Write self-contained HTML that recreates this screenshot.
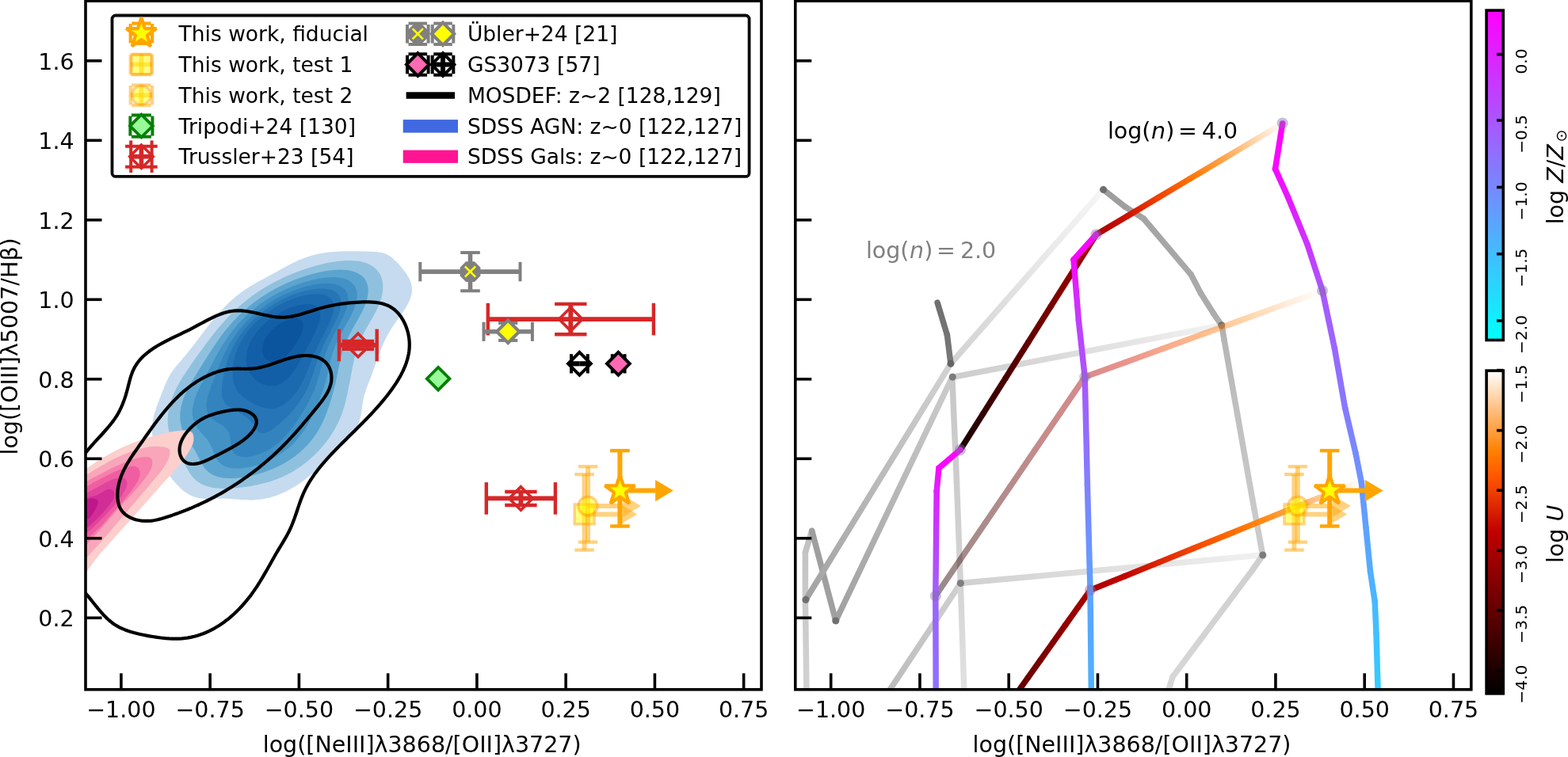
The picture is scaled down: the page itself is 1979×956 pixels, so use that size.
<!DOCTYPE html>
<html><head><meta charset="utf-8"><title>figure</title><style>html,body{margin:0;padding:0;background:#fff;overflow:hidden}svg{display:block}text{font-family:'DejaVu Sans', 'Liberation Sans', sans-serif}</style></head><body>
<svg width="1979" height="956" viewBox="0 0 1979 956">
<defs>
<clipPath id="clipL"><rect x="108" y="1.2" width="853" height="869.6"/></clipPath>
<clipPath id="clipR"><rect x="1003.8" y="1.2" width="853" height="869.6"/></clipPath>
<linearGradient id="g1" gradientUnits="userSpaceOnUse" x1="1592.4" y1="701" x2="1212.3" y2="736.6"><stop offset="0" stop-color="#f0f0f0"/><stop offset="1" stop-color="#d0d0d0"/></linearGradient>
<linearGradient id="g2" gradientUnits="userSpaceOnUse" x1="1212.3" y1="736.6" x2="1124.5" y2="869"><stop offset="0" stop-color="#d0d0d0"/><stop offset="1" stop-color="#bcbcbc"/></linearGradient>
<linearGradient id="g3" gradientUnits="userSpaceOnUse" x1="1124.5" y1="869" x2="1118.5" y2="878"><stop offset="0" stop-color="#bcbcbc"/><stop offset="1" stop-color="#bababa"/></linearGradient>
<linearGradient id="g4" gradientUnits="userSpaceOnUse" x1="1541.8" y1="410.8" x2="1201.8" y2="476.4"><stop offset="0" stop-color="#f2f2f2"/><stop offset="1" stop-color="#cccccc"/></linearGradient>
<linearGradient id="g5" gradientUnits="userSpaceOnUse" x1="1201.8" y1="476.4" x2="1054.8" y2="784"><stop offset="0" stop-color="#cccccc"/><stop offset="1" stop-color="#a0a0a0"/></linearGradient>
<linearGradient id="g6" gradientUnits="userSpaceOnUse" x1="1201.8" y1="476.4" x2="1207.5" y2="610"><stop offset="0" stop-color="#c8c8c8"/><stop offset="1" stop-color="#cdcdcd"/></linearGradient>
<linearGradient id="g7" gradientUnits="userSpaceOnUse" x1="1207.5" y1="610" x2="1212.3" y2="736.6"><stop offset="0" stop-color="#cdcdcd"/><stop offset="1" stop-color="#d4d4d4"/></linearGradient>
<linearGradient id="g8" gradientUnits="userSpaceOnUse" x1="1212.3" y1="736.6" x2="1217" y2="878"><stop offset="0" stop-color="#d4d4d4"/><stop offset="1" stop-color="#e2e2e2"/></linearGradient>
<linearGradient id="g9" gradientUnits="userSpaceOnUse" x1="1024.7" y1="670.3" x2="1016.4" y2="697.7"><stop offset="0" stop-color="#bebebe"/><stop offset="1" stop-color="#c3c3c3"/></linearGradient>
<linearGradient id="g10" gradientUnits="userSpaceOnUse" x1="1016.4" y1="697.7" x2="1016.4" y2="757"><stop offset="0" stop-color="#c3c3c3"/><stop offset="1" stop-color="#cacaca"/></linearGradient>
<linearGradient id="g11" gradientUnits="userSpaceOnUse" x1="1016.4" y1="757" x2="1018" y2="878"><stop offset="0" stop-color="#cacaca"/><stop offset="1" stop-color="#d2d2d2"/></linearGradient>
<linearGradient id="g12" gradientUnits="userSpaceOnUse" x1="1054.8" y1="784" x2="1024.7" y2="670.3"><stop offset="0" stop-color="#a0a0a0"/><stop offset="1" stop-color="#9e9e9e"/></linearGradient>
<linearGradient id="g13" gradientUnits="userSpaceOnUse" x1="1392.5" y1="239.4" x2="1199.9" y2="459.3"><stop offset="0" stop-color="#f6f6f6"/><stop offset="1" stop-color="#d2d2d2"/></linearGradient>
<linearGradient id="g14" gradientUnits="userSpaceOnUse" x1="1199.9" y1="459.3" x2="1017" y2="757.4"><stop offset="0" stop-color="#d2d2d2"/><stop offset="1" stop-color="#a2a2a2"/></linearGradient>
<linearGradient id="g15" gradientUnits="userSpaceOnUse" x1="1183.1" y1="382.2" x2="1195.4" y2="423"><stop offset="0" stop-color="#707070"/><stop offset="1" stop-color="#747474"/></linearGradient>
<linearGradient id="g16" gradientUnits="userSpaceOnUse" x1="1195.4" y1="423" x2="1199.9" y2="459.3"><stop offset="0" stop-color="#747474"/><stop offset="1" stop-color="#787878"/></linearGradient>
<linearGradient id="g17" gradientUnits="userSpaceOnUse" x1="1392.5" y1="239.4" x2="1420" y2="261.2"><stop offset="0" stop-color="#9c9c9c"/><stop offset="1" stop-color="#a0a0a0"/></linearGradient>
<linearGradient id="g18" gradientUnits="userSpaceOnUse" x1="1420" y1="261.2" x2="1443.3" y2="276"><stop offset="0" stop-color="#a0a0a0"/><stop offset="1" stop-color="#a4a4a4"/></linearGradient>
<linearGradient id="g19" gradientUnits="userSpaceOnUse" x1="1443.3" y1="276" x2="1503.1" y2="346.6"><stop offset="0" stop-color="#a4a4a4"/><stop offset="1" stop-color="#a8a8a8"/></linearGradient>
<linearGradient id="g20" gradientUnits="userSpaceOnUse" x1="1503.1" y1="346.6" x2="1515.3" y2="370"><stop offset="0" stop-color="#a8a8a8"/><stop offset="1" stop-color="#aaaaaa"/></linearGradient>
<linearGradient id="g21" gradientUnits="userSpaceOnUse" x1="1515.3" y1="370" x2="1531.6" y2="395.8"><stop offset="0" stop-color="#aaaaaa"/><stop offset="1" stop-color="#acacac"/></linearGradient>
<linearGradient id="g22" gradientUnits="userSpaceOnUse" x1="1531.6" y1="395.8" x2="1542" y2="410.8"><stop offset="0" stop-color="#acacac"/><stop offset="1" stop-color="#b0b0b0"/></linearGradient>
<linearGradient id="g23" gradientUnits="userSpaceOnUse" x1="1542" y1="410.8" x2="1545.2" y2="429.8"><stop offset="0" stop-color="#b0b0b0"/><stop offset="1" stop-color="#b6b6b6"/></linearGradient>
<linearGradient id="g24" gradientUnits="userSpaceOnUse" x1="1545.2" y1="429.8" x2="1561.5" y2="522.2"><stop offset="0" stop-color="#b6b6b6"/><stop offset="1" stop-color="#c0c0c0"/></linearGradient>
<linearGradient id="g25" gradientUnits="userSpaceOnUse" x1="1561.5" y1="522.2" x2="1580.6" y2="630"><stop offset="0" stop-color="#c0c0c0"/><stop offset="1" stop-color="#c8c8c8"/></linearGradient>
<linearGradient id="g26" gradientUnits="userSpaceOnUse" x1="1580.6" y1="630" x2="1592.4" y2="693.9"><stop offset="0" stop-color="#c8c8c8"/><stop offset="1" stop-color="#cccccc"/></linearGradient>
<linearGradient id="g27" gradientUnits="userSpaceOnUse" x1="1592.4" y1="693.9" x2="1593.8" y2="701"><stop offset="0" stop-color="#cccccc"/><stop offset="1" stop-color="#cecece"/></linearGradient>
<linearGradient id="g28" gradientUnits="userSpaceOnUse" x1="1593.8" y1="701" x2="1581" y2="719.5"><stop offset="0" stop-color="#cecece"/><stop offset="1" stop-color="#d0d0d0"/></linearGradient>
<linearGradient id="g29" gradientUnits="userSpaceOnUse" x1="1581" y1="719.5" x2="1480" y2="854.7"><stop offset="0" stop-color="#d0d0d0"/><stop offset="1" stop-color="#d6d6d6"/></linearGradient>
<linearGradient id="g30" gradientUnits="userSpaceOnUse" x1="1480" y1="854.7" x2="1473" y2="878"><stop offset="0" stop-color="#d6d6d6"/><stop offset="1" stop-color="#d7d7d7"/></linearGradient>
<linearGradient id="g31" gradientUnits="userSpaceOnUse" x1="1180.8" y1="752.5" x2="1212.2" y2="706.43"><stop offset="0" stop-color="#1b0000"/><stop offset="1" stop-color="#330000"/></linearGradient>
<linearGradient id="g32" gradientUnits="userSpaceOnUse" x1="1212.2" y1="706.43" x2="1243.6" y2="660.37"><stop offset="0" stop-color="#330000"/><stop offset="1" stop-color="#4a0000"/></linearGradient>
<linearGradient id="g33" gradientUnits="userSpaceOnUse" x1="1243.6" y1="660.37" x2="1275" y2="614.3"><stop offset="0" stop-color="#4a0000"/><stop offset="1" stop-color="#620000"/></linearGradient>
<linearGradient id="g34" gradientUnits="userSpaceOnUse" x1="1275" y1="614.3" x2="1306.4" y2="568.23"><stop offset="0" stop-color="#620000"/><stop offset="1" stop-color="#7a0000"/></linearGradient>
<linearGradient id="g35" gradientUnits="userSpaceOnUse" x1="1306.4" y1="568.23" x2="1337.8" y2="522.17"><stop offset="0" stop-color="#7a0000"/><stop offset="1" stop-color="#920000"/></linearGradient>
<linearGradient id="g36" gradientUnits="userSpaceOnUse" x1="1337.8" y1="522.17" x2="1369.2" y2="476.1"><stop offset="0" stop-color="#920000"/><stop offset="1" stop-color="#a90000"/></linearGradient>
<linearGradient id="g37" gradientUnits="userSpaceOnUse" x1="1369.2" y1="476.1" x2="1419.17" y2="457.92"><stop offset="0" stop-color="#a90000"/><stop offset="1" stop-color="#cd1200"/></linearGradient>
<linearGradient id="g38" gradientUnits="userSpaceOnUse" x1="1419.17" y1="457.92" x2="1469.13" y2="439.73"><stop offset="0" stop-color="#cd1200"/><stop offset="1" stop-color="#f04100"/></linearGradient>
<linearGradient id="g39" gradientUnits="userSpaceOnUse" x1="1469.13" y1="439.73" x2="1519.1" y2="421.55"><stop offset="0" stop-color="#f04100"/><stop offset="1" stop-color="#ff7100"/></linearGradient>
<linearGradient id="g40" gradientUnits="userSpaceOnUse" x1="1519.1" y1="421.55" x2="1569.07" y2="403.37"><stop offset="0" stop-color="#ff7100"/><stop offset="1" stop-color="#ffa041"/></linearGradient>
<linearGradient id="g41" gradientUnits="userSpaceOnUse" x1="1569.07" y1="403.37" x2="1619.03" y2="385.18"><stop offset="0" stop-color="#ffa041"/><stop offset="1" stop-color="#ffd0a0"/></linearGradient>
<linearGradient id="g42" gradientUnits="userSpaceOnUse" x1="1619.03" y1="385.18" x2="1669" y2="367"><stop offset="0" stop-color="#ffd0a0"/><stop offset="1" stop-color="#ffffff"/></linearGradient>
<linearGradient id="g43" gradientUnits="userSpaceOnUse" x1="1281.6" y1="878" x2="1297.33" y2="855.88"><stop offset="0" stop-color="#620000"/><stop offset="1" stop-color="#6e0000"/></linearGradient>
<linearGradient id="g44" gradientUnits="userSpaceOnUse" x1="1297.33" y1="855.88" x2="1313.07" y2="833.77"><stop offset="0" stop-color="#6e0000"/><stop offset="1" stop-color="#7a0000"/></linearGradient>
<linearGradient id="g45" gradientUnits="userSpaceOnUse" x1="1313.07" y1="833.77" x2="1328.8" y2="811.65"><stop offset="0" stop-color="#7a0000"/><stop offset="1" stop-color="#860000"/></linearGradient>
<linearGradient id="g46" gradientUnits="userSpaceOnUse" x1="1328.8" y1="811.65" x2="1344.53" y2="789.53"><stop offset="0" stop-color="#860000"/><stop offset="1" stop-color="#920000"/></linearGradient>
<linearGradient id="g47" gradientUnits="userSpaceOnUse" x1="1344.53" y1="789.53" x2="1360.27" y2="767.42"><stop offset="0" stop-color="#920000"/><stop offset="1" stop-color="#9d0000"/></linearGradient>
<linearGradient id="g48" gradientUnits="userSpaceOnUse" x1="1360.27" y1="767.42" x2="1376" y2="745.3"><stop offset="0" stop-color="#9d0000"/><stop offset="1" stop-color="#a90000"/></linearGradient>
<linearGradient id="g49" gradientUnits="userSpaceOnUse" x1="1376" y1="745.3" x2="1419.42" y2="727.72"><stop offset="0" stop-color="#a90000"/><stop offset="1" stop-color="#c20400"/></linearGradient>
<linearGradient id="g50" gradientUnits="userSpaceOnUse" x1="1419.42" y1="727.72" x2="1462.83" y2="710.13"><stop offset="0" stop-color="#c20400"/><stop offset="1" stop-color="#db2500"/></linearGradient>
<linearGradient id="g51" gradientUnits="userSpaceOnUse" x1="1462.83" y1="710.13" x2="1506.25" y2="692.55"><stop offset="0" stop-color="#db2500"/><stop offset="1" stop-color="#f44600"/></linearGradient>
<linearGradient id="g52" gradientUnits="userSpaceOnUse" x1="1506.25" y1="692.55" x2="1549.67" y2="674.97"><stop offset="0" stop-color="#f44600"/><stop offset="1" stop-color="#ff6700"/></linearGradient>
<linearGradient id="g53" gradientUnits="userSpaceOnUse" x1="1549.67" y1="674.97" x2="1593.08" y2="657.38"><stop offset="0" stop-color="#ff6700"/><stop offset="1" stop-color="#ff8912"/></linearGradient>
<linearGradient id="g54" gradientUnits="userSpaceOnUse" x1="1593.08" y1="657.38" x2="1636.5" y2="639.8"><stop offset="0" stop-color="#ff8912"/><stop offset="1" stop-color="#ffaa54"/></linearGradient>
<linearGradient id="g55" gradientUnits="userSpaceOnUse" x1="1636.5" y1="639.8" x2="1649.78" y2="634.58"><stop offset="0" stop-color="#ffaa54"/><stop offset="1" stop-color="#ffb871"/></linearGradient>
<linearGradient id="g56" gradientUnits="userSpaceOnUse" x1="1649.78" y1="634.58" x2="1663.07" y2="629.37"><stop offset="0" stop-color="#ffb871"/><stop offset="1" stop-color="#ffc68d"/></linearGradient>
<linearGradient id="g57" gradientUnits="userSpaceOnUse" x1="1663.07" y1="629.37" x2="1676.35" y2="624.15"><stop offset="0" stop-color="#ffc68d"/><stop offset="1" stop-color="#ffd4aa"/></linearGradient>
<linearGradient id="g58" gradientUnits="userSpaceOnUse" x1="1676.35" y1="624.15" x2="1689.63" y2="618.93"><stop offset="0" stop-color="#ffd4aa"/><stop offset="1" stop-color="#ffe3c6"/></linearGradient>
<linearGradient id="g59" gradientUnits="userSpaceOnUse" x1="1689.63" y1="618.93" x2="1702.92" y2="613.72"><stop offset="0" stop-color="#ffe3c6"/><stop offset="1" stop-color="#fff1e3"/></linearGradient>
<linearGradient id="g60" gradientUnits="userSpaceOnUse" x1="1702.92" y1="613.72" x2="1716.2" y2="608.5"><stop offset="0" stop-color="#fff1e3"/><stop offset="1" stop-color="#ffffff"/></linearGradient>
<linearGradient id="g61" gradientUnits="userSpaceOnUse" x1="1212" y1="568" x2="1240.58" y2="522.72"><stop offset="0" stop-color="#1b0000"/><stop offset="1" stop-color="#330000"/></linearGradient>
<linearGradient id="g62" gradientUnits="userSpaceOnUse" x1="1240.58" y1="522.72" x2="1269.17" y2="477.43"><stop offset="0" stop-color="#330000"/><stop offset="1" stop-color="#4a0000"/></linearGradient>
<linearGradient id="g63" gradientUnits="userSpaceOnUse" x1="1269.17" y1="477.43" x2="1297.75" y2="432.15"><stop offset="0" stop-color="#4a0000"/><stop offset="1" stop-color="#620000"/></linearGradient>
<linearGradient id="g64" gradientUnits="userSpaceOnUse" x1="1297.75" y1="432.15" x2="1326.33" y2="386.87"><stop offset="0" stop-color="#620000"/><stop offset="1" stop-color="#7a0000"/></linearGradient>
<linearGradient id="g65" gradientUnits="userSpaceOnUse" x1="1326.33" y1="386.87" x2="1354.92" y2="341.58"><stop offset="0" stop-color="#7a0000"/><stop offset="1" stop-color="#920000"/></linearGradient>
<linearGradient id="g66" gradientUnits="userSpaceOnUse" x1="1354.92" y1="341.58" x2="1383.5" y2="296.3"><stop offset="0" stop-color="#920000"/><stop offset="1" stop-color="#a90000"/></linearGradient>
<linearGradient id="g67" gradientUnits="userSpaceOnUse" x1="1383.5" y1="296.3" x2="1422.7" y2="272.92"><stop offset="0" stop-color="#a90000"/><stop offset="1" stop-color="#cd1200"/></linearGradient>
<linearGradient id="g68" gradientUnits="userSpaceOnUse" x1="1422.7" y1="272.92" x2="1461.9" y2="249.53"><stop offset="0" stop-color="#cd1200"/><stop offset="1" stop-color="#f04100"/></linearGradient>
<linearGradient id="g69" gradientUnits="userSpaceOnUse" x1="1461.9" y1="249.53" x2="1501.1" y2="226.15"><stop offset="0" stop-color="#f04100"/><stop offset="1" stop-color="#ff7100"/></linearGradient>
<linearGradient id="g70" gradientUnits="userSpaceOnUse" x1="1501.1" y1="226.15" x2="1540.3" y2="202.77"><stop offset="0" stop-color="#ff7100"/><stop offset="1" stop-color="#ffa041"/></linearGradient>
<linearGradient id="g71" gradientUnits="userSpaceOnUse" x1="1540.3" y1="202.77" x2="1579.5" y2="179.38"><stop offset="0" stop-color="#ffa041"/><stop offset="1" stop-color="#ffd0a0"/></linearGradient>
<linearGradient id="g72" gradientUnits="userSpaceOnUse" x1="1579.5" y1="179.38" x2="1618.7" y2="156"><stop offset="0" stop-color="#ffd0a0"/><stop offset="1" stop-color="#ffffff"/></linearGradient>
<linearGradient id="g73" gradientUnits="userSpaceOnUse" x1="1618.7" y1="156" x2="1609.5" y2="213.4"><stop offset="0" stop-color="#ff00ff"/><stop offset="1" stop-color="#f708ff"/></linearGradient>
<linearGradient id="g74" gradientUnits="userSpaceOnUse" x1="1609.5" y1="213.4" x2="1625.5" y2="248.8"><stop offset="0" stop-color="#f708ff"/><stop offset="1" stop-color="#e619ff"/></linearGradient>
<linearGradient id="g75" gradientUnits="userSpaceOnUse" x1="1625.5" y1="248.8" x2="1650" y2="308.6"><stop offset="0" stop-color="#e619ff"/><stop offset="1" stop-color="#cc33ff"/></linearGradient>
<linearGradient id="g76" gradientUnits="userSpaceOnUse" x1="1650" y1="308.6" x2="1669" y2="367"><stop offset="0" stop-color="#cc33ff"/><stop offset="1" stop-color="#a857ff"/></linearGradient>
<linearGradient id="g77" gradientUnits="userSpaceOnUse" x1="1669" y1="367" x2="1684.4" y2="440"><stop offset="0" stop-color="#a857ff"/><stop offset="1" stop-color="#9966ff"/></linearGradient>
<linearGradient id="g78" gradientUnits="userSpaceOnUse" x1="1684.4" y1="440" x2="1697.6" y2="515.2"><stop offset="0" stop-color="#9966ff"/><stop offset="1" stop-color="#857aff"/></linearGradient>
<linearGradient id="g79" gradientUnits="userSpaceOnUse" x1="1697.6" y1="515.2" x2="1710.8" y2="571.6"><stop offset="0" stop-color="#857aff"/><stop offset="1" stop-color="#758aff"/></linearGradient>
<linearGradient id="g80" gradientUnits="userSpaceOnUse" x1="1710.8" y1="571.6" x2="1718.3" y2="609.2"><stop offset="0" stop-color="#758aff"/><stop offset="1" stop-color="#6b94ff"/></linearGradient>
<linearGradient id="g81" gradientUnits="userSpaceOnUse" x1="1718.3" y1="609.2" x2="1723.9" y2="665.6"><stop offset="0" stop-color="#6b94ff"/><stop offset="1" stop-color="#5ea1ff"/></linearGradient>
<linearGradient id="g82" gradientUnits="userSpaceOnUse" x1="1723.9" y1="665.6" x2="1729.5" y2="722"><stop offset="0" stop-color="#5ea1ff"/><stop offset="1" stop-color="#52adff"/></linearGradient>
<linearGradient id="g83" gradientUnits="userSpaceOnUse" x1="1729.5" y1="722" x2="1735.2" y2="759.5"><stop offset="0" stop-color="#52adff"/><stop offset="1" stop-color="#47b8ff"/></linearGradient>
<linearGradient id="g84" gradientUnits="userSpaceOnUse" x1="1735.2" y1="759.5" x2="1737" y2="799.4"><stop offset="0" stop-color="#47b8ff"/><stop offset="1" stop-color="#40bfff"/></linearGradient>
<linearGradient id="g85" gradientUnits="userSpaceOnUse" x1="1737" y1="799.4" x2="1739.3" y2="878"><stop offset="0" stop-color="#40bfff"/><stop offset="1" stop-color="#30cfff"/></linearGradient>
<linearGradient id="g86" gradientUnits="userSpaceOnUse" x1="1383.5" y1="296.3" x2="1355" y2="328"><stop offset="0" stop-color="#ff00ff"/><stop offset="1" stop-color="#f708ff"/></linearGradient>
<linearGradient id="g87" gradientUnits="userSpaceOnUse" x1="1355" y1="328" x2="1361.3" y2="404"><stop offset="0" stop-color="#f708ff"/><stop offset="1" stop-color="#c23dff"/></linearGradient>
<linearGradient id="g88" gradientUnits="userSpaceOnUse" x1="1361.3" y1="404" x2="1369.2" y2="476.1"><stop offset="0" stop-color="#c23dff"/><stop offset="1" stop-color="#a857ff"/></linearGradient>
<linearGradient id="g89" gradientUnits="userSpaceOnUse" x1="1369.2" y1="476.1" x2="1372.4" y2="612"><stop offset="0" stop-color="#a857ff"/><stop offset="1" stop-color="#8080ff"/></linearGradient>
<linearGradient id="g90" gradientUnits="userSpaceOnUse" x1="1372.4" y1="612" x2="1376" y2="745.3"><stop offset="0" stop-color="#8080ff"/><stop offset="1" stop-color="#5ca3ff"/></linearGradient>
<linearGradient id="g91" gradientUnits="userSpaceOnUse" x1="1376" y1="745.3" x2="1377.4" y2="878"><stop offset="0" stop-color="#5ca3ff"/><stop offset="1" stop-color="#4cb2ff"/></linearGradient>
<linearGradient id="g92" gradientUnits="userSpaceOnUse" x1="1212" y1="568" x2="1184.9" y2="591.2"><stop offset="0" stop-color="#ff00ff"/><stop offset="1" stop-color="#f708ff"/></linearGradient>
<linearGradient id="g93" gradientUnits="userSpaceOnUse" x1="1184.9" y1="591.2" x2="1182.2" y2="620"><stop offset="0" stop-color="#f708ff"/><stop offset="1" stop-color="#de21ff"/></linearGradient>
<linearGradient id="g94" gradientUnits="userSpaceOnUse" x1="1182.2" y1="620" x2="1180.8" y2="752.5"><stop offset="0" stop-color="#de21ff"/><stop offset="1" stop-color="#9e61ff"/></linearGradient>
<linearGradient id="g95" gradientUnits="userSpaceOnUse" x1="1180.8" y1="752.5" x2="1181.2" y2="878"><stop offset="0" stop-color="#9e61ff"/><stop offset="1" stop-color="#8c73ff"/></linearGradient>
<linearGradient id="cb1" x1="0" y1="1" x2="0" y2="0"><stop offset="0" stop-color="#00ffff"/><stop offset="1" stop-color="#ff00ff"/></linearGradient>
<linearGradient id="cb2" x1="0" y1="1" x2="0" y2="0"><stop offset="0" stop-color="#000000"/><stop offset="0.25" stop-color="#600000"/><stop offset="0.5" stop-color="#bf0000"/><stop offset="0.67" stop-color="#ff5500"/><stop offset="0.75" stop-color="#ff8000"/><stop offset="0.88" stop-color="#ffbf80"/><stop offset="1" stop-color="#ffffff"/></linearGradient>
</defs>
<rect width="1979" height="956" fill="#fff"/>
<g clip-path="url(#clipL)">
<path d="M192.32,535.10 L192.65,532.67 L193.06,530.24 L193.55,527.81 L194.12,525.39 L194.75,522.97 L195.45,520.55 L196.19,518.14 L196.98,515.74 L197.81,513.33 L198.67,510.94 L199.56,508.54 L200.46,506.16 L201.38,503.77 L202.30,501.40 L203.22,499.02 L204.13,496.65 L205.04,494.29 L205.95,491.94 L206.87,489.61 L207.81,487.29 L208.78,485.00 L209.78,482.72 L210.82,480.48 L211.90,478.26 L213.04,476.08 L214.23,473.93 L215.50,471.83 L216.84,469.76 L218.25,467.74 L219.73,465.76 L221.26,463.81 L222.84,461.88 L224.45,459.96 L226.09,458.06 L227.74,456.17 L229.39,454.27 L231.03,452.36 L232.66,450.44 L234.27,448.51 L235.86,446.56 L237.43,444.61 L239.00,442.64 L240.55,440.66 L242.09,438.68 L243.63,436.69 L245.15,434.69 L246.67,432.69 L248.19,430.69 L249.70,428.68 L251.22,426.68 L252.73,424.67 L254.24,422.67 L255.76,420.67 L257.29,418.67 L258.82,416.68 L260.36,414.69 L261.90,412.71 L263.45,410.74 L265.02,408.78 L266.59,406.83 L268.18,404.89 L269.77,402.96 L271.38,401.05 L273.00,399.15 L274.64,397.26 L276.29,395.39 L277.96,393.54 L279.64,391.70 L281.35,389.89 L283.07,388.10 L284.81,386.32 L286.56,384.57 L288.34,382.84 L290.15,381.14 L291.97,379.46 L293.82,377.81 L295.69,376.19 L297.58,374.59 L299.50,373.02 L301.45,371.49 L303.42,369.98 L305.42,368.51 L307.45,367.07 L309.51,365.66 L311.60,364.28 L313.71,362.93 L315.84,361.61 L317.99,360.31 L320.16,359.04 L322.34,357.78 L324.54,356.54 L326.75,355.31 L328.97,354.09 L331.19,352.88 L333.42,351.68 L335.65,350.48 L337.88,349.29 L340.11,348.09 L342.34,346.89 L344.56,345.69 L346.77,344.48 L348.98,343.26 L351.18,342.04 L353.37,340.82 L355.57,339.61 L357.76,338.40 L359.95,337.20 L362.15,336.02 L364.35,334.85 L366.55,333.70 L368.76,332.58 L370.98,331.48 L373.21,330.40 L375.44,329.36 L377.70,328.35 L379.96,327.38 L382.24,326.45 L384.54,325.57 L386.86,324.73 L389.19,323.94 L391.55,323.20 L393.93,322.51 L396.33,321.88 L398.75,321.29 L401.19,320.76 L403.64,320.27 L406.11,319.82 L408.60,319.42 L411.10,319.05 L413.61,318.73 L416.13,318.44 L418.66,318.19 L421.20,317.97 L423.74,317.79 L426.30,317.63 L428.85,317.50 L431.42,317.40 L433.98,317.32 L436.54,317.27 L439.11,317.23 L441.67,317.22 L444.23,317.22 L446.79,317.24 L449.34,317.27 L451.88,317.32 L454.42,317.37 L456.95,317.44 L459.47,317.51 L461.98,317.58 L464.47,317.66 L466.95,317.74 L469.42,317.82 L471.87,317.93 L474.29,318.09 L476.68,318.31 L479.03,318.63 L481.34,319.05 L483.61,319.60 L485.83,320.31 L487.99,321.18 L490.08,322.25 L492.13,323.50 L494.11,324.91 L496.05,326.47 L497.94,328.16 L499.79,329.95 L501.60,331.83 L503.38,333.79 L505.13,335.79 L506.85,337.84 L508.54,339.90 L510.18,341.99 L511.75,344.11 L513.23,346.25 L514.61,348.42 L515.86,350.60 L516.97,352.81 L517.92,355.05 L518.69,357.30 L519.29,359.57 L519.70,361.85 L519.94,364.15 L519.99,366.45 L519.85,368.75 L519.53,371.06 L519.02,373.36 L518.35,375.67 L517.52,377.96 L516.57,380.25 L515.49,382.53 L514.30,384.79 L513.03,387.04 L511.68,389.28 L510.27,391.49 L508.81,393.69 L507.33,395.87 L505.83,398.02 L504.33,400.14 L502.83,402.24 L501.36,404.32 L499.89,406.39 L498.45,408.45 L497.03,410.50 L495.64,412.56 L494.28,414.62 L492.95,416.70 L491.66,418.79 L490.42,420.90 L489.22,423.04 L488.06,425.21 L486.94,427.40 L485.87,429.61 L484.82,431.84 L483.81,434.09 L482.83,436.36 L481.88,438.65 L480.95,440.95 L480.04,443.27 L479.15,445.60 L478.28,447.94 L477.42,450.28 L476.57,452.64 L475.73,455.00 L474.89,457.37 L474.06,459.74 L473.23,462.11 L472.39,464.48 L471.55,466.86 L470.70,469.22 L469.84,471.59 L468.97,473.95 L468.08,476.30 L467.17,478.64 L466.25,480.98 L465.33,483.32 L464.41,485.65 L463.52,487.99 L462.65,490.34 L461.81,492.70 L461.03,495.07 L460.31,497.46 L459.65,499.87 L459.07,502.30 L458.57,504.76 L458.12,507.23 L457.73,509.72 L457.36,512.21 L457.00,514.71 L456.64,517.19 L456.27,519.67 L455.86,522.12 L455.40,524.56 L454.88,526.96 L454.28,529.33 L453.60,531.66 L452.83,533.95 L451.97,536.20 L451.02,538.41 L449.98,540.57 L448.84,542.69 L447.59,544.77 L446.25,546.79 L444.80,548.76 L443.27,550.69 L441.65,552.58 L439.96,554.44 L438.21,556.27 L436.42,558.07 L434.59,559.85 L432.73,561.62 L430.86,563.37 L428.98,565.12 L427.11,566.87 L425.26,568.62 L423.42,570.38 L421.60,572.13 L419.78,573.89 L417.98,575.65 L416.19,577.40 L414.40,579.16 L412.62,580.90 L410.83,582.64 L409.05,584.38 L407.26,586.10 L405.47,587.82 L403.67,589.53 L401.87,591.22 L400.05,592.90 L398.22,594.56 L396.37,596.21 L394.51,597.84 L392.62,599.46 L390.72,601.05 L388.79,602.62 L386.83,604.17 L384.85,605.70 L382.84,607.20 L380.80,608.68 L378.73,610.12 L376.64,611.54 L374.52,612.92 L372.38,614.26 L370.22,615.57 L368.03,616.85 L365.82,618.08 L363.59,619.27 L361.34,620.42 L359.07,621.52 L356.78,622.57 L354.48,623.57 L352.16,624.52 L349.82,625.42 L347.46,626.27 L345.10,627.05 L342.71,627.78 L340.32,628.45 L337.91,629.05 L335.50,629.59 L333.07,630.07 L330.63,630.47 L328.19,630.81 L325.73,631.07 L323.27,631.26 L320.80,631.39 L318.33,631.46 L315.85,631.47 L313.37,631.43 L310.87,631.35 L308.38,631.24 L305.88,631.10 L303.37,630.94 L300.86,630.76 L298.34,630.57 L295.82,630.38 L293.30,630.19 L290.77,630.01 L288.24,629.85 L285.71,629.71 L283.18,629.60 L280.64,629.52 L278.10,629.49 L275.56,629.50 L273.02,629.56 L270.48,629.65 L267.95,629.76 L265.43,629.85 L262.92,629.91 L260.42,629.91 L257.96,629.83 L255.51,629.65 L253.10,629.36 L250.72,628.94 L248.37,628.41 L246.07,627.76 L243.80,626.98 L241.59,626.07 L239.43,625.03 L237.32,623.87 L235.26,622.57 L233.26,621.16 L231.31,619.65 L229.40,618.03 L227.53,616.33 L225.71,614.55 L223.93,612.70 L222.18,610.80 L220.47,608.84 L218.80,606.85 L217.15,604.83 L215.54,602.77 L213.96,600.69 L212.42,598.57 L210.92,596.43 L209.46,594.27 L208.04,592.08 L206.67,589.87 L205.35,587.63 L204.07,585.37 L202.85,583.10 L201.68,580.80 L200.57,578.49 L199.51,576.16 L198.51,573.81 L197.58,571.45 L196.71,569.08 L195.90,566.69 L195.16,564.30 L194.49,561.89 L193.90,559.48 L193.37,557.05 L192.93,554.62 L192.56,552.19 L192.27,549.75 L192.06,547.31 L191.94,544.87 L191.90,542.43 L191.95,539.98 L192.09,537.54 L192.32,535.10 Z" fill="#c6dbef"/>
<path d="M425.9,330.0 L428.0,329.8 L431.0,329.5 L434.0,329.2 L437.0,329.1 L440.0,329.0 L443.0,329.0 L446.0,329.2 L449.0,329.4 L452.0,329.8 L454.0,330.1 L457.0,330.7 L459.0,331.2 L461.5,332.0 L464.0,332.9 L466.0,333.8 L468.0,334.9 L469.9,336.0 L471.3,337.0 L473.0,338.3 L474.8,340.0 L476.0,341.3 L477.4,343.0 L478.8,345.0 L479.9,347.0 L480.8,349.0 L481.6,351.0 L482.2,353.0 L482.8,356.0 L483.1,358.0 L483.3,361.0 L483.3,364.0 L483.1,367.0 L482.8,369.0 L482.3,372.0 L481.9,374.0 L481.1,377.0 L480.4,379.0 L479.8,381.0 L479.0,383.1 L478.0,385.5 L477.0,387.8 L476.0,390.0 L475.0,392.0 L474.0,394.0 L473.0,396.0 L472.0,397.8 L471.0,399.7 L470.0,401.5 L469.0,403.2 L468.0,405.0 L466.8,407.0 L465.7,409.0 L464.5,411.0 L463.3,413.0 L462.2,415.0 L461.1,417.0 L460.0,419.0 L459.0,420.8 L458.0,422.8 L457.0,424.8 L456.0,426.8 L455.0,429.0 L454.1,431.0 L453.3,433.0 L452.5,435.0 L451.8,437.0 L451.0,439.2 L450.1,442.0 L449.5,444.0 L448.9,446.0 L448.1,449.0 L447.6,451.0 L447.0,453.7 L446.5,456.0 L446.0,458.3 L445.5,461.0 L445.0,463.3 L444.5,466.0 L444.0,468.4 L443.5,471.0 L443.0,473.7 L442.6,476.0 L442.0,479.0 L441.6,481.0 L441.1,484.0 L440.7,486.0 L440.1,489.0 L439.7,491.0 L439.1,494.0 L438.7,496.0 L438.1,499.0 L437.6,501.0 L437.0,503.6 L436.4,506.0 L435.9,508.0 L435.1,511.0 L434.6,513.0 L434.0,515.0 L433.0,518.0 L432.4,520.0 L431.7,522.0 L430.9,524.0 L430.0,526.3 L429.0,528.8 L428.0,531.0 L427.1,533.0 L426.2,535.0 L425.1,537.0 L424.1,539.0 L423.0,541.0 L422.0,542.8 L421.0,544.5 L420.0,546.1 L418.8,548.0 L417.5,550.0 L416.2,552.0 L415.0,553.7 L414.0,555.1 L412.6,557.0 L411.0,559.0 L410.0,560.3 L408.6,562.0 L407.0,563.9 L406.0,565.1 L404.3,567.0 L403.0,568.4 L401.5,570.0 L400.0,571.5 L398.6,573.0 L397.0,574.5 L395.4,576.0 L394.0,577.3 L392.2,579.0 L391.0,580.0 L389.0,581.7 L387.4,583.0 L386.0,584.2 L384.0,585.7 L382.3,587.0 L380.9,588.0 L379.0,589.4 L377.0,590.8 L375.1,592.0 L373.6,593.0 L372.0,594.0 L370.0,595.2 L368.0,596.4 L366.0,597.5 L364.0,598.6 L362.0,599.6 L360.0,600.6 L358.0,601.5 L356.0,602.4 L354.0,603.3 L352.0,604.1 L349.8,605.0 L347.1,606.0 L345.0,606.7 L343.0,607.4 L341.0,608.1 L338.0,609.0 L336.0,609.5 L334.0,610.1 L331.0,610.8 L329.0,611.3 L326.0,612.0 L324.0,612.4 L321.0,613.0 L319.0,613.4 L316.0,613.9 L314.0,614.2 L311.0,614.7 L309.0,615.0 L306.0,615.4 L303.0,615.8 L300.9,616.0 L298.0,616.3 L295.0,616.5 L292.0,616.7 L289.0,616.9 L286.0,617.0 L283.0,617.0 L280.0,616.9 L277.0,616.8 L274.0,616.5 L271.0,616.2 L269.0,615.9 L266.0,615.3 L264.0,614.8 L261.1,614.0 L259.0,613.3 L257.0,612.5 L255.0,611.6 L253.0,610.5 L251.0,609.3 L249.1,608.0 L247.8,607.0 L246.0,605.4 L244.6,604.0 L243.0,602.2 L242.0,601.0 L240.5,599.0 L239.2,597.0 L238.0,595.1 L237.0,593.4 L236.0,591.6 L235.0,589.7 L234.0,587.8 L233.0,585.8 L232.0,583.8 L231.0,581.9 L230.0,580.0 L228.9,578.0 L227.8,576.0 L226.7,574.0 L225.5,572.0 L224.4,570.0 L223.2,568.0 L222.1,566.0 L221.0,564.1 L220.0,562.2 L219.0,560.3 L218.0,558.2 L217.0,556.0 L216.2,554.0 L215.4,552.0 L214.7,550.0 L214.0,547.7 L213.3,545.0 L212.9,543.0 L212.4,540.0 L212.0,537.2 L211.8,535.0 L211.7,532.0 L211.7,529.0 L211.9,526.0 L212.0,524.0 L212.4,521.0 L212.9,518.0 L213.3,516.0 L214.0,513.0 L214.5,511.0 L215.1,509.0 L216.0,506.0 L216.7,504.0 L217.4,502.0 L218.2,500.0 L219.0,498.0 L220.0,495.8 L221.0,493.6 L222.0,491.5 L223.0,489.5 L224.0,487.6 L225.0,485.8 L226.0,484.0 L227.1,482.0 L228.3,480.0 L229.5,478.0 L230.7,476.0 L232.0,474.0 L233.0,472.5 L234.0,470.9 L235.3,469.0 L236.6,467.0 L238.0,465.0 L239.0,463.5 L240.0,462.0 L241.4,460.0 L242.8,458.0 L244.0,456.4 L245.0,454.9 L246.4,453.0 L247.8,451.0 L249.0,449.3 L250.0,447.9 L251.4,446.0 L252.8,444.0 L254.0,442.4 L255.0,441.0 L256.5,439.0 L257.9,437.0 L259.0,435.6 L260.2,434.0 L261.6,432.0 L263.0,430.2 L264.0,428.9 L265.4,427.0 L267.0,425.0 L268.0,423.7 L269.3,422.0 L270.9,420.0 L272.0,418.7 L273.3,417.0 L275.0,415.0 L276.0,413.8 L277.5,412.0 L279.0,410.3 L280.1,409.0 L281.9,407.0 L283.0,405.8 L284.6,404.0 L286.0,402.5 L287.4,401.0 L289.0,399.3 L290.3,398.0 L292.0,396.3 L293.3,395.0 L295.0,393.3 L296.4,392.0 L298.0,390.5 L299.6,389.0 L301.0,387.8 L303.0,386.0 L304.1,385.0 L306.0,383.4 L307.7,382.0 L309.0,380.9 L311.0,379.3 L312.6,378.0 L314.0,376.9 L316.0,375.4 L317.9,374.0 L319.3,373.0 L321.0,371.8 L323.0,370.4 L325.0,369.0 L326.5,368.0 L328.0,367.0 L330.0,365.7 L332.0,364.5 L334.0,363.2 L336.0,362.0 L337.7,361.0 L339.5,360.0 L341.3,359.0 L343.1,358.0 L345.0,357.0 L347.0,355.9 L349.0,354.9 L351.0,353.9 L353.0,352.9 L355.0,351.9 L357.0,351.0 L359.1,350.0 L361.3,349.0 L363.6,348.0 L366.0,347.0 L368.0,346.2 L370.0,345.3 L372.0,344.5 L374.0,343.8 L376.0,343.0 L378.7,342.0 L381.0,341.2 L383.0,340.5 L385.0,339.8 L387.5,339.0 L390.0,338.2 L392.0,337.6 L394.0,337.0 L397.0,336.1 L399.0,335.5 L401.0,335.0 L404.0,334.2 L406.0,333.7 L409.0,333.0 L411.0,332.6 L413.8,332.0 L416.0,331.6 L419.0,331.0 L421.0,330.7 L424.0,330.3 Z" fill="#8fc1de" fill-rule="evenodd"/>
<path d="M421.0,341.0 L424.0,340.8 L427.0,340.7 L430.0,340.6 L433.0,340.7 L436.0,340.9 L438.0,341.1 L441.0,341.6 L443.0,342.0 L446.0,342.8 L448.0,343.5 L450.0,344.3 L452.0,345.2 L454.0,346.4 L456.0,347.8 L457.4,349.0 L459.0,350.6 L460.2,352.0 L461.5,354.0 L462.5,356.0 L463.3,358.0 L464.0,360.3 L464.5,363.0 L464.7,366.0 L464.7,369.0 L464.4,372.0 L464.0,374.2 L463.4,377.0 L462.9,379.0 L462.0,381.7 L461.2,384.0 L460.4,386.0 L459.6,388.0 L458.7,390.0 L457.8,392.0 L456.8,394.0 L455.8,396.0 L454.7,398.0 L453.7,400.0 L452.6,402.0 L451.4,404.0 L450.3,406.0 L449.2,408.0 L448.0,410.0 L447.0,411.8 L446.0,413.5 L445.0,415.3 L444.0,417.1 L443.0,419.0 L441.9,421.0 L440.8,423.0 L439.8,425.0 L438.8,427.0 L437.9,429.0 L437.0,431.0 L436.0,433.3 L435.0,435.8 L434.2,438.0 L433.5,440.0 L432.8,442.0 L432.0,444.6 L431.3,447.0 L430.8,449.0 L430.0,452.0 L429.6,454.0 L429.0,456.7 L428.5,459.0 L428.0,461.7 L427.5,464.0 L427.0,466.8 L426.6,469.0 L426.0,471.9 L425.6,474.0 L425.0,476.7 L424.5,479.0 L424.0,481.3 L423.4,484.0 L422.9,486.0 L422.2,489.0 L421.7,491.0 L421.0,493.6 L420.4,496.0 L419.8,498.0 L419.0,500.8 L418.4,503.0 L417.8,505.0 L417.0,507.5 L416.2,510.0 L415.6,512.0 L414.9,514.0 L414.0,516.6 L413.1,519.0 L412.4,521.0 L411.6,523.0 L410.8,525.0 L410.0,527.1 L409.0,529.4 L408.0,531.6 L407.0,533.8 L406.0,535.8 L405.0,537.7 L404.0,539.6 L403.0,541.4 L402.0,543.1 L400.9,545.0 L399.6,547.0 L398.3,549.0 L397.0,550.8 L396.0,552.2 L394.7,554.0 L393.1,556.0 L392.0,557.4 L390.6,559.0 L389.0,560.8 L388.0,562.0 L386.1,564.0 L385.0,565.1 L383.0,567.0 L382.0,568.0 L380.0,569.8 L378.7,571.0 L377.0,572.4 L375.0,574.0 L373.8,575.0 L372.0,576.4 L370.0,577.8 L368.3,579.0 L366.9,580.0 L365.0,581.2 L363.0,582.5 L361.0,583.7 L359.0,584.9 L357.0,586.0 L355.1,587.0 L353.2,588.0 L351.1,589.0 L349.0,590.0 L347.0,590.9 L345.0,591.8 L343.0,592.6 L341.0,593.4 L339.0,594.2 L336.9,595.0 L334.1,596.0 L332.0,596.7 L330.0,597.3 L327.8,598.0 L325.0,598.8 L323.0,599.4 L320.5,600.0 L318.0,600.6 L316.0,601.1 L313.0,601.7 L311.0,602.1 L308.0,602.6 L305.2,603.0 L303.0,603.3 L300.0,603.6 L297.0,603.9 L294.4,604.0 L292.0,604.1 L289.0,604.0 L287.0,604.0 L284.0,603.8 L281.0,603.4 L278.8,603.0 L276.0,602.4 L274.0,601.8 L271.7,601.0 L269.4,600.0 L267.4,599.0 L265.7,598.0 L264.0,596.8 L262.0,595.1 L260.8,594.0 L259.0,592.0 L258.0,590.8 L256.7,589.0 L255.4,587.0 L254.3,585.0 L253.2,583.0 L252.2,581.0 L251.2,579.0 L250.3,577.0 L249.3,575.0 L248.2,573.0 L247.2,571.0 L246.0,569.0 L245.0,567.3 L244.0,565.7 L242.9,564.0 L241.5,562.0 L240.2,560.0 L239.0,558.3 L238.0,556.8 L236.8,555.0 L235.5,553.0 L234.3,551.0 L233.2,549.0 L232.1,547.0 L231.2,545.0 L230.4,543.0 L229.7,541.0 L229.0,538.8 L228.3,536.0 L227.9,534.0 L227.5,531.0 L227.3,528.0 L227.3,525.0 L227.4,522.0 L227.7,519.0 L228.0,517.0 L228.6,514.0 L229.0,512.0 L229.8,509.0 L230.4,507.0 L231.1,505.0 L232.0,502.5 L233.0,500.0 L233.8,498.0 L234.7,496.0 L235.6,494.0 L236.6,492.0 L237.6,490.0 L238.7,488.0 L239.8,486.0 L240.9,484.0 L242.0,482.1 L243.0,480.4 L244.0,478.7 L245.0,477.0 L246.2,475.0 L247.5,473.0 L248.7,471.0 L249.9,469.0 L251.0,467.3 L252.0,465.7 L253.1,464.0 L254.3,462.0 L255.6,460.0 L256.8,458.0 L258.0,456.1 L259.0,454.6 L260.0,453.0 L261.2,451.0 L262.5,449.0 L263.8,447.0 L265.0,445.1 L266.0,443.5 L267.0,442.0 L268.3,440.0 L269.6,438.0 L271.0,436.0 L272.0,434.5 L273.0,433.0 L274.4,431.0 L275.8,429.0 L277.0,427.3 L278.0,425.9 L279.4,424.0 L280.9,422.0 L282.0,420.6 L283.2,419.0 L284.8,417.0 L286.0,415.5 L287.3,414.0 L289.0,412.0 L290.0,410.8 L291.6,409.0 L293.0,407.4 L294.2,406.0 L296.0,404.1 L297.1,403.0 L299.0,401.0 L300.0,400.0 L302.0,398.0 L303.0,397.0 L305.0,395.1 L306.2,394.0 L308.0,392.4 L309.5,391.0 L311.0,389.7 L313.0,388.0 L314.2,387.0 L316.0,385.5 L317.9,384.0 L319.2,383.0 L321.0,381.6 L323.0,380.1 L324.6,379.0 L326.0,378.0 L328.0,376.6 L330.0,375.2 L331.8,374.0 L333.3,373.0 L335.0,371.9 L337.0,370.7 L339.0,369.5 L341.0,368.3 L343.0,367.2 L345.0,366.0 L346.9,365.0 L348.7,364.0 L350.7,363.0 L352.6,362.0 L354.6,361.0 L356.7,360.0 L358.8,359.0 L361.0,358.0 L363.0,357.1 L365.0,356.2 L367.0,355.4 L369.0,354.6 L371.0,353.8 L373.0,353.0 L375.6,352.0 L378.0,351.1 L380.0,350.4 L382.0,349.7 L384.2,349.0 L387.0,348.1 L389.0,347.5 L391.0,346.9 L394.0,346.1 L396.0,345.5 L398.1,345.0 L401.0,344.3 L403.0,343.8 L406.0,343.2 L408.0,342.8 L411.0,342.3 L413.0,342.0 L416.0,341.5 L419.0,341.2 L421.0,341.0 Z" fill="#5ca4d0" fill-rule="evenodd"/>
<path d="M407.4,351.0 L410.0,350.7 L413.0,350.4 L416.0,350.2 L419.0,350.1 L422.0,350.1 L425.0,350.3 L428.0,350.6 L430.7,351.0 L433.0,351.5 L435.0,352.1 L437.6,353.0 L439.7,354.0 L441.5,355.0 L443.0,356.0 L445.0,357.7 L446.2,359.0 L447.7,361.0 L448.8,363.0 L449.6,365.0 L450.2,367.0 L450.6,370.0 L450.8,373.0 L450.6,376.0 L450.1,379.0 L449.7,381.0 L449.0,383.7 L448.3,386.0 L447.6,388.0 L446.8,390.0 L446.0,392.0 L445.0,394.2 L444.0,396.3 L443.0,398.4 L442.0,400.4 L441.0,402.3 L440.0,404.2 L439.0,406.0 L437.9,408.0 L436.8,410.0 L435.7,412.0 L434.6,414.0 L433.5,416.0 L432.4,418.0 L431.3,420.0 L430.2,422.0 L429.2,424.0 L428.2,426.0 L427.2,428.0 L426.2,430.0 L425.3,432.0 L424.4,434.0 L423.6,436.0 L422.7,438.0 L422.0,440.0 L421.0,442.7 L420.2,445.0 L419.6,447.0 L419.0,449.0 L418.1,452.0 L417.6,454.0 L417.0,456.2 L416.3,459.0 L415.9,461.0 L415.2,464.0 L414.7,466.0 L414.0,469.0 L413.6,471.0 L413.0,473.5 L412.4,476.0 L411.9,478.0 L411.1,481.0 L410.6,483.0 L410.0,485.0 L409.1,488.0 L408.5,490.0 L407.8,492.0 L407.0,494.5 L406.1,497.0 L405.4,499.0 L404.7,501.0 L403.9,503.0 L403.0,505.4 L402.0,507.8 L401.1,510.0 L400.3,512.0 L399.4,514.0 L398.5,516.0 L397.6,518.0 L396.7,520.0 L395.7,522.0 L394.8,524.0 L393.8,526.0 L392.8,528.0 L391.8,530.0 L390.7,532.0 L389.6,534.0 L388.5,536.0 L387.3,538.0 L386.1,540.0 L385.0,541.7 L384.0,543.3 L382.8,545.0 L381.4,547.0 L380.0,549.0 L379.0,550.3 L377.6,552.0 L376.0,554.0 L375.0,555.1 L373.3,557.0 L372.0,558.4 L370.4,560.0 L369.0,561.4 L367.3,563.0 L366.0,564.2 L364.0,565.9 L362.6,567.0 L361.0,568.3 L359.0,569.8 L357.4,571.0 L356.0,572.0 L354.0,573.3 L352.0,574.6 L350.0,575.8 L348.0,577.0 L346.2,578.0 L344.3,579.0 L342.4,580.0 L340.4,581.0 L338.2,582.0 L336.0,583.0 L334.0,583.8 L332.0,584.6 L330.0,585.4 L328.0,586.1 L325.4,587.0 L323.0,587.7 L321.0,588.3 L318.4,589.0 L316.0,589.6 L314.0,590.0 L311.0,590.6 L308.3,591.0 L306.0,591.3 L303.0,591.5 L300.0,591.7 L297.0,591.6 L294.0,591.4 L291.0,591.0 L289.0,590.6 L286.7,590.0 L284.0,589.0 L282.0,588.0 L280.3,587.0 L278.9,586.0 L277.0,584.3 L275.7,583.0 L274.2,581.0 L273.0,579.1 L272.0,577.2 L271.0,575.1 L270.1,573.0 L269.4,571.0 L268.7,569.0 L267.9,567.0 L267.0,564.7 L266.0,562.5 L265.0,560.5 L264.0,558.7 L262.9,557.0 L261.4,555.0 L260.0,553.2 L258.9,552.0 L257.1,550.0 L256.0,548.7 L254.4,547.0 L253.0,545.4 L251.8,544.0 L250.2,542.0 L249.0,540.4 L248.0,538.8 L246.9,537.0 L245.9,535.0 L245.0,532.9 L244.0,530.0 L243.5,528.0 L243.0,525.0 L242.8,523.0 L242.7,520.0 L242.9,517.0 L243.1,515.0 L243.6,512.0 L244.0,510.0 L244.8,507.0 L245.4,505.0 L246.0,503.0 L247.0,500.4 L248.0,498.0 L248.8,496.0 L249.7,494.0 L250.6,492.0 L251.6,490.0 L252.6,488.0 L253.6,486.0 L254.7,484.0 L255.7,482.0 L256.8,480.0 L257.8,478.0 L258.9,476.0 L260.0,474.0 L261.0,472.1 L262.0,470.2 L263.0,468.3 L264.0,466.4 L265.0,464.5 L266.0,462.6 L267.0,460.7 L268.0,458.8 L269.0,456.9 L270.0,455.0 L271.1,453.0 L272.1,451.0 L273.2,449.0 L274.3,447.0 L275.4,445.0 L276.6,443.0 L277.7,441.0 L278.9,439.0 L280.0,437.2 L281.0,435.6 L282.0,433.9 L283.2,432.0 L284.6,430.0 L285.9,428.0 L287.0,426.4 L288.0,425.0 L289.4,423.0 L290.9,421.0 L292.0,419.5 L293.2,418.0 L294.8,416.0 L296.0,414.5 L297.3,413.0 L299.0,411.0 L300.0,409.8 L301.6,408.0 L303.0,406.5 L304.4,405.0 L306.0,403.4 L307.4,402.0 L309.0,400.4 L310.4,399.0 L312.0,397.5 L313.7,396.0 L315.0,394.8 L317.0,393.1 L318.3,392.0 L320.0,390.6 L321.9,389.0 L323.2,388.0 L325.0,386.6 L327.0,385.1 L328.5,384.0 L330.0,382.9 L332.0,381.5 L334.0,380.2 L335.8,379.0 L337.3,378.0 L339.0,376.9 L341.0,375.7 L343.0,374.5 L345.0,373.3 L347.0,372.2 L349.0,371.1 L351.0,370.0 L353.0,369.0 L355.0,368.0 L357.0,367.0 L359.0,366.1 L361.0,365.1 L363.0,364.2 L365.0,363.4 L367.0,362.5 L369.0,361.7 L371.0,360.9 L373.3,360.0 L376.0,359.0 L378.0,358.3 L380.0,357.6 L382.0,357.0 L385.0,356.0 L387.0,355.5 L389.0,354.9 L392.0,354.1 L394.0,353.6 L396.5,353.0 L399.0,352.5 L401.3,352.0 L404.0,351.5 L407.0,351.1 Z" fill="#4292c6" fill-rule="evenodd"/>
<path d="M411.5,358.0 L413.0,358.0 L416.0,358.1 L419.0,358.4 L422.0,358.9 L424.0,359.3 L426.2,360.0 L428.7,361.0 L430.6,362.0 L432.2,363.0 L434.0,364.5 L435.5,366.0 L436.9,368.0 L437.9,370.0 L438.6,372.0 L439.1,374.0 L439.4,377.0 L439.4,380.0 L439.0,383.0 L438.6,385.0 L438.0,387.5 L437.3,390.0 L436.6,392.0 L435.8,394.0 L435.0,396.1 L434.0,398.4 L433.0,400.5 L432.0,402.6 L431.0,404.6 L430.0,406.6 L429.0,408.5 L428.0,410.4 L427.0,412.3 L426.0,414.2 L425.0,416.0 L423.9,418.0 L422.9,420.0 L421.8,422.0 L420.8,424.0 L419.7,426.0 L418.7,428.0 L417.7,430.0 L416.8,432.0 L415.9,434.0 L415.0,436.0 L414.0,438.2 L413.0,440.6 L412.1,443.0 L411.3,445.0 L410.6,447.0 L409.9,449.0 L409.0,451.8 L408.3,454.0 L407.7,456.0 L407.0,458.4 L406.3,461.0 L405.7,463.0 L405.0,465.7 L404.4,468.0 L403.8,470.0 L403.0,473.0 L402.4,475.0 L401.9,477.0 L401.0,479.8 L400.3,482.0 L399.6,484.0 L398.9,486.0 L398.0,488.6 L397.1,491.0 L396.3,493.0 L395.4,495.0 L394.6,497.0 L393.7,499.0 L392.7,501.0 L391.8,503.0 L390.8,505.0 L389.7,507.0 L388.7,509.0 L387.6,511.0 L386.5,513.0 L385.3,515.0 L384.2,517.0 L383.0,519.0 L382.0,520.6 L381.0,522.2 L379.9,524.0 L378.6,526.0 L377.3,528.0 L376.0,530.0 L375.0,531.5 L374.0,533.0 L372.6,535.0 L371.2,537.0 L370.0,538.6 L369.0,540.0 L367.5,542.0 L366.0,543.9 L365.0,545.1 L363.5,547.0 L362.0,548.7 L360.8,550.0 L359.0,552.0 L358.0,553.0 L356.0,555.0 L355.0,556.0 L353.0,557.8 L351.6,559.0 L350.0,560.3 L348.0,561.9 L346.5,563.0 L345.0,564.1 L343.0,565.5 L341.0,566.7 L339.0,567.9 L337.1,569.0 L335.2,570.0 L333.2,571.0 L331.0,572.0 L329.0,572.8 L327.0,573.6 L325.0,574.3 L322.9,575.0 L320.0,575.8 L318.0,576.3 L315.0,576.8 L313.0,577.0 L310.0,577.2 L307.0,577.1 L305.0,576.9 L302.0,576.2 L300.0,575.4 L298.0,574.3 L296.3,573.0 L295.0,571.6 L293.9,570.0 L293.0,568.0 L292.0,565.0 L291.7,563.0 L291.3,560.0 L291.1,557.0 L290.9,555.0 L290.5,552.0 L290.0,549.5 L289.2,547.0 L288.3,545.0 L287.0,543.1 L286.0,541.9 L284.1,540.0 L282.9,539.0 L281.0,537.6 L279.0,536.3 L277.0,535.1 L275.2,534.0 L273.6,533.0 L272.0,531.9 L270.0,530.5 L268.2,529.0 L267.0,527.9 L265.3,526.0 L264.0,524.3 L263.0,522.6 L262.0,520.4 L261.3,518.0 L260.9,516.0 L260.6,513.0 L260.6,510.0 L260.9,507.0 L261.3,505.0 L261.9,502.0 L262.4,500.0 L263.0,498.0 L264.0,495.0 L264.7,493.0 L265.4,491.0 L266.1,489.0 L267.0,486.7 L268.0,484.1 L268.8,482.0 L269.6,480.0 L270.4,478.0 L271.1,476.0 L272.0,473.8 L273.0,471.2 L273.8,469.0 L274.6,467.0 L275.4,465.0 L276.2,463.0 L277.0,461.0 L278.0,458.5 L279.0,456.1 L279.9,454.0 L280.8,452.0 L281.7,450.0 L282.6,448.0 L283.5,446.0 L284.5,444.0 L285.5,442.0 L286.6,440.0 L287.6,438.0 L288.8,436.0 L289.9,434.0 L291.0,432.2 L292.0,430.6 L293.0,429.0 L294.3,427.0 L295.6,425.0 L297.0,423.1 L298.0,421.7 L299.2,420.0 L300.8,418.0 L302.0,416.5 L303.2,415.0 L304.9,413.0 L306.0,411.7 L307.5,410.0 L309.0,408.3 L310.2,407.0 L312.0,405.2 L313.2,404.0 L315.0,402.2 L316.3,401.0 L318.0,399.4 L319.6,398.0 L321.0,396.7 L323.0,395.0 L324.2,394.0 L326.0,392.6 L328.0,391.0 L329.3,390.0 L331.0,388.7 L333.0,387.3 L334.8,386.0 L336.3,385.0 L338.0,383.8 L340.0,382.5 L342.0,381.3 L344.0,380.1 L345.8,379.0 L347.5,378.0 L349.3,377.0 L351.1,376.0 L353.0,375.0 L355.0,374.0 L357.0,373.0 L359.1,372.0 L361.2,371.0 L363.4,370.0 L365.8,369.0 L368.0,368.1 L370.0,367.3 L372.0,366.5 L374.0,365.8 L376.2,365.0 L379.0,364.1 L381.0,363.4 L383.0,362.8 L385.9,362.0 L388.0,361.4 L390.0,360.9 L393.0,360.3 L395.0,359.8 L398.0,359.3 L400.0,359.0 L403.0,358.6 L406.0,358.3 L409.0,358.1 L411.5,358.0 Z" fill="#3383be" fill-rule="evenodd"/>
<path d="M398.1,365.0 L401.0,364.7 L404.0,364.6 L407.0,364.5 L410.0,364.7 L412.7,365.0 L415.0,365.4 L417.3,366.0 L420.0,367.0 L422.0,367.9 L423.7,369.0 L425.0,370.0 L426.9,372.0 L428.0,373.6 L429.0,375.6 L429.8,378.0 L430.1,380.0 L430.3,383.0 L430.1,386.0 L429.8,388.0 L429.2,391.0 L428.6,393.0 L428.0,395.0 L427.0,397.7 L426.1,400.0 L425.2,402.0 L424.3,404.0 L423.4,406.0 L422.4,408.0 L421.4,410.0 L420.4,412.0 L419.4,414.0 L418.4,416.0 L417.3,418.0 L416.3,420.0 L415.2,422.0 L414.2,424.0 L413.1,426.0 L412.1,428.0 L411.1,430.0 L410.1,432.0 L409.2,434.0 L408.2,436.0 L407.3,438.0 L406.4,440.0 L405.6,442.0 L404.8,444.0 L403.9,446.0 L403.0,448.4 L402.0,451.0 L401.3,453.0 L400.6,455.0 L400.0,457.0 L399.0,459.9 L398.3,462.0 L397.7,464.0 L397.0,466.1 L396.1,469.0 L395.4,471.0 L394.8,473.0 L394.0,475.3 L393.0,478.0 L392.3,480.0 L391.5,482.0 L390.7,484.0 L389.9,486.0 L389.0,488.0 L388.0,490.2 L387.0,492.3 L386.0,494.3 L385.0,496.2 L384.0,498.0 L382.8,500.0 L381.6,502.0 L380.4,504.0 L379.0,506.0 L378.0,507.5 L377.0,509.0 L375.5,511.0 L374.0,513.0 L373.0,514.2 L371.6,516.0 L370.0,517.9 L369.0,519.0 L367.3,521.0 L366.0,522.4 L364.5,524.0 L363.0,525.5 L361.5,527.0 L360.0,528.5 L358.4,530.0 L357.0,531.3 L355.2,533.0 L354.0,534.0 L352.0,535.7 L350.4,537.0 L349.0,538.1 L347.0,539.7 L345.1,541.0 L343.6,542.0 L342.0,543.0 L340.0,544.2 L338.0,545.2 L336.0,546.0 L333.0,546.9 L331.0,547.0 L329.0,546.7 L327.0,545.8 L325.1,544.0 L324.0,542.6 L322.9,541.0 L321.7,539.0 L320.4,537.0 L319.0,535.1 L318.0,533.8 L316.4,532.0 L315.0,530.5 L313.4,529.0 L312.0,527.8 L310.0,526.2 L308.3,525.0 L306.8,524.0 L305.0,522.8 L303.0,521.6 L301.0,520.5 L299.0,519.4 L297.0,518.3 L295.0,517.2 L293.0,516.0 L291.3,515.0 L289.8,514.0 L288.0,512.7 L286.1,511.0 L285.0,509.9 L283.5,508.0 L282.3,506.0 L281.4,504.0 L280.8,502.0 L280.2,499.0 L280.0,497.0 L279.9,494.0 L280.0,491.0 L280.1,489.0 L280.4,486.0 L280.8,483.0 L281.1,481.0 L281.6,478.0 L282.0,475.9 L282.6,473.0 L283.0,470.9 L283.7,468.0 L284.1,466.0 L284.9,463.0 L285.5,461.0 L286.0,459.0 L286.9,456.0 L287.6,454.0 L288.3,452.0 L289.0,450.0 L290.0,447.5 L291.0,445.0 L291.9,443.0 L292.8,441.0 L293.8,439.0 L294.8,437.0 L295.8,435.0 L296.9,433.0 L298.0,431.2 L299.0,429.5 L300.0,427.9 L301.2,426.0 L302.6,424.0 L304.0,422.0 L305.0,420.6 L306.2,419.0 L307.8,417.0 L309.0,415.5 L310.2,414.0 L312.0,412.0 L313.0,410.8 L314.7,409.0 L316.0,407.6 L317.6,406.0 L319.0,404.6 L320.7,403.0 L322.0,401.8 L324.0,400.0 L325.1,399.0 L327.0,397.4 L328.7,396.0 L330.0,395.0 L332.0,393.4 L333.9,392.0 L335.3,391.0 L337.0,389.8 L339.0,388.4 L341.0,387.1 L342.6,386.0 L344.2,385.0 L346.0,383.9 L348.0,382.8 L350.0,381.6 L352.0,380.5 L354.0,379.5 L356.0,378.4 L358.0,377.4 L360.0,376.5 L362.0,375.6 L364.0,374.7 L366.0,373.8 L368.0,373.0 L370.6,372.0 L373.0,371.1 L375.0,370.4 L377.0,369.8 L379.4,369.0 L382.0,368.3 L384.0,367.7 L386.8,367.0 L389.0,366.5 L391.5,366.0 L394.0,365.6 L397.0,365.1 Z" fill="#2575b7" fill-rule="evenodd"/>
<path d="M390.5,372.0 L393.0,371.7 L396.0,371.4 L399.0,371.3 L402.0,371.4 L405.0,371.7 L407.0,372.0 L410.0,372.8 L412.0,373.5 L414.0,374.6 L416.0,375.9 L417.1,377.0 L418.7,379.0 L419.8,381.0 L420.5,383.0 L421.0,385.8 L421.1,388.0 L421.0,390.0 L420.6,393.0 L420.0,395.7 L419.4,398.0 L418.7,400.0 L418.0,402.0 L417.0,404.5 L416.0,406.9 L415.1,409.0 L414.1,411.0 L413.2,413.0 L412.2,415.0 L411.2,417.0 L410.1,419.0 L409.1,421.0 L408.1,423.0 L407.1,425.0 L406.0,427.0 L405.0,429.0 L404.0,431.0 L403.0,433.0 L402.0,435.0 L401.0,437.0 L400.1,439.0 L399.2,441.0 L398.2,443.0 L397.3,445.0 L396.5,447.0 L395.6,449.0 L394.8,451.0 L394.0,453.0 L393.0,455.4 L392.0,457.9 L391.2,460.0 L390.4,462.0 L389.6,464.0 L388.9,466.0 L388.0,468.2 L387.0,470.7 L386.1,473.0 L385.2,475.0 L384.3,477.0 L383.4,479.0 L382.5,481.0 L381.5,483.0 L380.4,485.0 L379.3,487.0 L378.2,489.0 L377.0,490.9 L376.0,492.4 L374.9,494.0 L373.4,496.0 L372.0,497.8 L371.0,499.1 L369.3,501.0 L368.0,502.4 L366.4,504.0 L365.0,505.3 L363.0,507.0 L361.8,508.0 L360.0,509.3 L358.0,510.7 L356.0,511.9 L354.0,512.9 L352.0,513.8 L350.0,514.6 L348.0,515.2 L345.0,515.8 L343.0,516.0 L340.0,516.1 L338.0,515.9 L335.0,515.4 L333.0,515.0 L330.0,514.0 L328.0,513.3 L326.0,512.5 L324.0,511.6 L322.0,510.7 L320.0,509.6 L318.0,508.6 L316.0,507.5 L314.0,506.3 L312.0,505.0 L310.5,504.0 L309.0,502.9 L307.0,501.4 L305.3,500.0 L304.0,498.8 L302.3,497.0 L301.0,495.5 L299.9,494.0 L298.6,492.0 L297.5,490.0 L296.6,488.0 L295.8,486.0 L295.0,483.1 L294.5,481.0 L294.1,478.0 L293.8,476.0 L293.7,473.0 L293.6,470.0 L293.7,467.0 L293.9,464.0 L294.1,462.0 L294.6,459.0 L295.0,456.6 L295.6,454.0 L296.0,452.0 L296.9,449.0 L297.5,447.0 L298.2,445.0 L299.0,442.8 L300.0,440.3 L301.0,438.1 L302.0,436.0 L303.0,434.0 L304.0,432.1 L305.0,430.3 L306.0,428.6 L307.0,427.0 L308.3,425.0 L309.6,423.0 L311.0,421.1 L312.0,419.7 L313.3,418.0 L314.9,416.0 L316.0,414.7 L317.5,413.0 L319.0,411.4 L320.3,410.0 L322.0,408.2 L323.2,407.0 L325.0,405.3 L326.4,404.0 L328.0,402.5 L329.8,401.0 L331.0,400.0 L333.0,398.3 L334.7,397.0 L336.0,396.0 L338.0,394.5 L340.0,393.1 L341.6,392.0 L343.1,391.0 L345.0,389.8 L347.0,388.6 L349.0,387.4 L351.0,386.2 L353.0,385.1 L355.0,384.1 L357.0,383.0 L359.0,382.1 L361.0,381.1 L363.0,380.2 L365.0,379.4 L367.0,378.6 L369.0,377.8 L371.1,377.0 L374.0,376.0 L376.0,375.4 L378.0,374.8 L380.7,374.0 L383.0,373.4 L385.0,373.0 L388.0,372.4 L390.5,372.0 Z" fill="#1b69af" fill-rule="evenodd"/>
<path d="M378.8,385.0 L381.0,384.6 L384.0,384.3 L387.0,384.1 L390.0,384.2 L393.0,384.5 L395.0,385.0 L397.6,386.0 L399.4,387.0 L401.0,388.3 L402.4,390.0 L403.4,392.0 L404.1,394.0 L404.4,397.0 L404.3,400.0 L404.0,402.3 L403.4,405.0 L402.8,407.0 L402.0,409.5 L401.1,412.0 L400.3,414.0 L399.4,416.0 L398.5,418.0 L397.6,420.0 L396.6,422.0 L395.6,424.0 L394.6,426.0 L393.5,428.0 L392.5,430.0 L391.4,432.0 L390.4,434.0 L389.3,436.0 L388.2,438.0 L387.1,440.0 L386.1,442.0 L385.0,444.0 L384.0,445.8 L383.0,447.6 L382.0,449.5 L381.0,451.3 L380.0,453.1 L379.0,455.0 L377.8,457.0 L376.7,459.0 L375.5,461.0 L374.3,463.0 L373.1,465.0 L372.0,466.7 L371.0,468.2 L369.7,470.0 L368.2,472.0 L367.0,473.6 L365.8,475.0 L364.0,477.0 L363.0,478.0 L361.0,479.9 L359.6,481.0 L358.0,482.2 L356.0,483.5 L354.0,484.6 L352.0,485.5 L350.0,486.3 L347.0,487.0 L345.0,487.3 L342.0,487.4 L339.0,487.2 L337.0,486.9 L334.0,486.1 L332.0,485.4 L330.0,484.5 L328.0,483.5 L326.0,482.2 L324.2,481.0 L322.9,480.0 L321.0,478.3 L319.7,477.0 L318.0,475.0 L317.0,473.7 L315.8,472.0 L314.7,470.0 L313.7,468.0 L312.8,466.0 L312.0,463.4 L311.4,461.0 L311.0,458.6 L310.7,456.0 L310.7,453.0 L310.8,450.0 L311.1,448.0 L311.6,445.0 L312.0,443.0 L312.9,440.0 L313.6,438.0 L314.3,436.0 L315.2,434.0 L316.1,432.0 L317.2,430.0 L318.3,428.0 L319.5,426.0 L320.8,424.0 L322.0,422.2 L323.0,420.8 L324.4,419.0 L326.0,417.1 L327.0,415.9 L328.7,414.0 L330.0,412.6 L331.6,411.0 L333.0,409.6 L334.8,408.0 L336.0,406.9 L338.0,405.2 L339.5,404.0 L341.0,402.8 L343.0,401.3 L344.9,400.0 L346.3,399.0 L348.0,397.9 L350.0,396.7 L352.0,395.5 L354.0,394.3 L356.0,393.3 L358.0,392.3 L360.0,391.3 L362.0,390.4 L364.0,389.5 L366.0,388.7 L368.0,388.0 L371.0,387.0 L373.0,386.4 L375.0,385.8 L378.0,385.2 Z" fill="#135fa7" fill-rule="evenodd"/>
<path d="M366.7,403.0 L369.0,402.5 L372.0,402.2 L375.0,402.3 L377.7,403.0 L379.5,404.0 L381.0,405.4 L382.0,407.1 L382.7,410.0 L382.7,413.0 L382.1,416.0 L381.6,418.0 L380.9,420.0 L380.0,422.3 L379.0,424.5 L378.0,426.5 L377.0,428.4 L376.0,430.2 L374.9,432.0 L373.7,434.0 L372.4,436.0 L371.0,438.0 L370.0,439.4 L368.7,441.0 L367.1,443.0 L366.0,444.3 L364.5,446.0 L363.0,447.6 L361.5,449.0 L360.0,450.3 L358.0,451.9 L356.4,453.0 L354.7,454.0 L352.8,455.0 L350.1,456.0 L348.0,456.5 L345.0,456.8 L342.0,456.4 L340.0,455.9 L338.0,454.9 L336.0,453.5 L334.5,452.0 L333.1,450.0 L332.1,448.0 L331.4,446.0 L331.0,443.6 L330.9,441.0 L331.0,439.0 L331.5,436.0 L332.1,434.0 L333.0,431.4 L334.0,429.2 L335.0,427.3 L336.0,425.7 L337.1,424.0 L338.6,422.0 L340.0,420.2 L341.1,419.0 L343.0,417.0 L344.0,416.0 L346.0,414.2 L347.5,413.0 L349.0,411.8 L351.0,410.4 L353.0,409.0 L354.7,408.0 L356.5,407.0 L358.5,406.0 L360.7,405.0 L363.0,404.1 L365.0,403.5 Z" fill="#0b559f" fill-rule="evenodd"/>
<path d="M100,592 C101.7,568.28 105.88,592.67 110.2,590.7 C114.52,588.73 119.8,583.87 125.9,580.2 C132,576.53 139.82,572.18 146.8,568.7 C153.78,565.22 160.82,562.08 167.8,559.3 C174.78,556.52 181.73,554.1 188.7,552 C195.67,549.9 202.63,548.1 209.6,546.7 C216.57,545.3 225.27,543.85 230.5,543.6 C235.73,543.35 238.72,544.05 241,545.2 C243.28,546.35 243.77,548.03 244.2,550.5 C244.63,552.97 244.63,556.58 243.6,560 C242.57,563.42 240.43,567 238,571 C235.57,575 232.5,579.5 229,584 C225.5,588.5 221.28,593.17 217,598 C212.72,602.83 208.37,607.33 203.3,613 C198.23,618.67 192.52,625.33 186.6,632 C180.68,638.67 174.43,645.6 167.8,653 C161.17,660.4 153.78,668.57 146.8,676.4 C139.82,684.23 131.82,692.9 125.9,700 C119.98,707.1 115.62,713.5 111.3,719 C106.98,724.5 101.88,754.17 100,733 C98.12,711.83 98.3,615.72 100,592 Z" fill="#fccfcc"/>
<path d="M100,604 C101.7,584.67 105.88,601.4 110.2,599 C114.52,596.6 119.8,593.08 125.9,589.6 C132,586.12 139.82,581.42 146.8,578.1 C153.78,574.78 160.82,572.02 167.8,569.7 C174.78,567.38 182.43,565.1 188.7,564.2 C194.97,563.3 201.27,563.75 205.4,564.3 C209.53,564.85 212.03,565.88 213.5,567.5 C214.97,569.12 214.62,571.42 214.2,574 C213.78,576.58 212.82,579.5 211,583 C209.18,586.5 206.8,590.33 203.3,595 C199.8,599.67 194.88,605.17 190,611 C185.12,616.83 179.67,623.33 174,630 C168.33,636.67 162.62,643.27 156,651 C149.38,658.73 140.7,669.02 134.3,676.4 C127.9,683.78 121.62,690.77 117.6,695.3 C113.58,699.83 113.13,700.32 110.2,703.6 C107.27,706.88 101.7,731.6 100,715 C98.3,698.4 98.3,623.33 100,604 Z" fill="#f9a6ba"/>
<path d="M100,612 C101.7,596.9 105.88,609.57 110.2,607.4 C114.52,605.23 119.8,602.13 125.9,599 C132,595.87 139.82,591.73 146.8,588.6 C153.78,585.47 161.52,582.12 167.8,580.2 C174.08,578.28 180.55,577.1 184.5,577.1 C188.45,577.1 190.33,578.05 191.5,580.2 C192.67,582.35 192.42,586.7 191.5,590 C190.58,593.3 188.58,596.17 186,600 C183.42,603.83 180,608.25 176,613 C172,617.75 166.83,623.17 162,628.5 C157.17,633.83 151.62,639.8 147,645 C142.38,650.2 139.2,654.12 134.3,659.7 C129.4,665.28 121.62,673.97 117.6,678.5 C113.58,683.03 113.13,683.65 110.2,686.9 C107.27,690.15 101.7,710.48 100,698 C98.3,685.52 98.3,627.1 100,612 Z" fill="#f77fac"/>
<path d="M100,618 C101.7,605.28 105.88,615.82 110.2,613.7 C114.52,611.58 119.8,608.43 125.9,605.3 C132,602.17 139.82,597.65 146.8,594.9 C153.78,592.15 163.18,589.37 167.8,588.8 C172.42,588.23 173.03,589.88 174.5,591.5 C175.97,593.12 176.93,595.42 176.6,598.5 C176.27,601.58 175.27,605.25 172.5,610 C169.73,614.75 164.97,620.8 160,627 C155.03,633.2 148.38,640.7 142.7,647.2 C137.02,653.7 131.32,660.43 125.9,666 C120.48,671.57 114.52,676.6 110.2,680.6 C105.88,684.6 101.7,700.43 100,690 C98.3,679.57 98.3,630.72 100,618 Z" fill="#ee5ea1"/>
<path d="M100,626 C101.7,616.18 105.88,624.15 110.2,622.1 C114.52,620.05 120.48,616.5 125.9,613.7 C131.32,610.9 137.82,607.05 142.7,605.3 C147.58,603.55 152.28,602.67 155.2,603.2 C158.12,603.73 159.65,606.12 160.2,608.5 C160.75,610.88 160.37,613.5 158.5,617.5 C156.63,621.5 153.03,627.22 149,632.5 C144.97,637.78 139.53,643.62 134.3,649.2 C129.07,654.78 121.62,662.15 117.6,666 C113.58,669.85 113.13,669.8 110.2,672.3 C107.27,674.8 101.7,688.72 100,681 C98.3,673.28 98.3,635.82 100,626 Z" fill="#e0449c"/>
<path d="M100,631 C101.7,623.38 106.58,629.22 110.2,628.3 C113.82,627.38 117.32,627.22 121.7,625.5 C126.08,623.78 132.87,618.83 136.5,618 C140.13,617.17 142.47,618.43 143.5,620.5 C144.53,622.57 144.93,625.95 142.7,630.4 C140.47,634.85 134.28,642.32 130.1,647.2 C125.92,652.08 120.92,656.57 117.6,659.7 C114.28,662.83 113.13,663.62 110.2,666 C107.27,668.38 101.7,679.83 100,674 C98.3,668.17 98.3,638.62 100,631 Z" fill="#d22c97"/>
<path d="M100,632 C101.7,627.07 107.27,630.83 110.2,630.4 C113.13,629.97 115.38,629.05 117.6,629.4 C119.82,629.75 122.82,630.58 123.5,632.5 C124.18,634.42 123.38,637.42 121.7,640.9 C120.02,644.38 115.32,650.97 113.4,653.4 C111.48,655.83 112.43,654.4 110.2,655.5 C107.97,656.6 101.7,663.92 100,660 C98.3,656.08 98.3,636.93 100,632 Z" fill="#c0168b"/>
<path d="M96.24,586.13 L98.69,583.04 L101.17,579.96 L103.68,576.89 L106.22,573.83 L108.79,570.78 L111.38,567.74 L114.00,564.71 L116.65,561.70 L119.33,558.69 L122.04,555.70 L124.77,552.72 L127.51,549.74 L130.23,546.76 L132.93,543.75 L135.59,540.72 L138.17,537.66 L140.67,534.55 L143.07,531.38 L145.35,528.14 L147.48,524.83 L149.46,521.44 L151.29,517.96 L152.99,514.41 L154.55,510.79 L155.99,507.10 L157.33,503.35 L158.56,499.54 L159.71,495.68 L160.78,491.77 L161.79,487.83 L162.78,483.89 L163.81,479.97 L164.91,476.13 L166.14,472.39 L167.53,468.79 L169.14,465.35 L170.97,462.09 L173.00,458.99 L175.23,456.04 L177.64,453.24 L180.22,450.57 L182.96,448.02 L185.84,445.59 L188.87,443.26 L192.02,441.02 L195.28,438.87 L198.65,436.80 L202.11,434.80 L205.65,432.85 L209.26,430.94 L212.92,429.08 L216.63,427.24 L220.38,425.42 L224.14,423.61 L227.92,421.80 L231.70,419.98 L235.47,418.13 L239.21,416.26 L242.92,414.35 L246.59,412.41 L250.23,410.44 L253.85,408.49 L257.44,406.55 L261.01,404.66 L264.58,402.83 L268.15,401.08 L271.71,399.43 L275.28,397.91 L278.87,396.52 L282.47,395.29 L286.10,394.25 L289.76,393.40 L293.45,392.77 L297.19,392.38 L300.97,392.25 L304.80,392.37 L308.68,392.73 L312.59,393.26 L316.54,393.95 L320.51,394.75 L324.50,395.62 L328.51,396.53 L332.52,397.44 L336.54,398.31 L340.55,399.10 L344.56,399.77 L348.55,400.30 L352.52,400.63 L356.46,400.74 L360.38,400.59 L364.26,400.21 L368.12,399.62 L371.96,398.86 L375.79,397.95 L379.60,396.92 L383.40,395.79 L387.20,394.61 L391.01,393.39 L394.81,392.17 L398.62,390.97 L402.45,389.82 L406.29,388.75 L410.14,387.75 L414.02,386.83 L417.91,385.99 L421.81,385.21 L425.74,384.51 L429.69,383.88 L433.66,383.33 L437.64,382.84 L441.65,382.42 L445.68,382.06 L449.73,381.78 L453.81,381.56 L457.91,381.40 L462.01,381.33 L466.10,381.38 L470.15,381.57 L474.15,381.94 L478.07,382.51 L481.88,383.31 L485.57,384.37 L489.12,385.72 L492.51,387.38 L495.70,389.40 L498.70,391.76 L501.49,394.43 L504.06,397.40 L506.42,400.61 L508.55,404.04 L510.45,407.66 L512.11,411.43 L513.53,415.31 L514.70,419.28 L515.62,423.30 L516.28,427.34 L516.67,431.37 L516.80,435.35 L516.67,439.30 L516.31,443.21 L515.72,447.07 L514.91,450.90 L513.91,454.68 L512.71,458.41 L511.35,462.11 L509.82,465.76 L508.14,469.36 L506.33,472.92 L504.40,476.44 L502.36,479.90 L500.23,483.32 L498.01,486.69 L495.72,490.01 L493.38,493.28 L490.98,496.50 L488.54,499.68 L486.05,502.82 L483.52,505.91 L480.95,508.97 L478.34,511.99 L475.70,514.98 L473.03,517.94 L470.33,520.87 L467.60,523.78 L464.84,526.66 L462.07,529.53 L459.28,532.38 L456.47,535.22 L453.65,538.04 L450.82,540.86 L447.98,543.67 L445.13,546.47 L442.29,549.28 L439.44,552.08 L436.60,554.89 L433.77,557.71 L430.94,560.54 L428.12,563.38 L425.32,566.23 L422.54,569.10 L419.77,571.99 L417.03,574.90 L414.32,577.84 L411.64,580.81 L409.01,583.81 L406.42,586.84 L403.89,589.91 L401.42,593.02 L399.02,596.17 L396.69,599.36 L394.44,602.61 L392.27,605.90 L390.20,609.25 L388.22,612.65 L386.35,616.12 L384.58,619.64 L382.93,623.23 L381.40,626.88 L379.95,630.59 L378.58,634.34 L377.26,638.11 L375.97,641.91 L374.70,645.72 L373.41,649.52 L372.10,653.32 L370.75,657.09 L369.32,660.82 L367.80,664.51 L366.18,668.15 L364.44,671.72 L362.59,675.24 L360.65,678.72 L358.65,682.16 L356.61,685.59 L354.55,689.00 L352.48,692.42 L350.43,695.85 L348.41,699.30 L346.41,702.76 L344.44,706.24 L342.47,709.72 L340.51,713.21 L338.55,716.70 L336.58,720.19 L334.59,723.66 L332.58,727.13 L330.54,730.57 L328.47,734.00 L326.35,737.40 L324.18,740.77 L321.96,744.12 L319.67,747.42 L317.32,750.68 L314.89,753.90 L312.39,757.06 L309.82,760.18 L307.19,763.23 L304.48,766.22 L301.71,769.14 L298.87,771.98 L295.97,774.75 L293.00,777.44 L289.97,780.03 L286.88,782.54 L283.73,784.95 L280.51,787.26 L277.24,789.46 L273.91,791.55 L270.52,793.53 L267.07,795.39 L263.57,797.12 L260.01,798.73 L256.40,800.20 L252.73,801.53 L249.02,802.72 L245.25,803.76 L241.43,804.65 L237.56,805.39 L233.64,805.96 L229.68,806.36 L225.67,806.61 L221.62,806.70 L217.55,806.65 L213.45,806.46 L209.34,806.17 L205.22,805.76 L201.10,805.27 L196.98,804.69 L192.88,804.04 L188.81,803.34 L184.76,802.58 L180.75,801.79 L176.78,800.95 L172.87,800.04 L169.01,799.05 L165.22,797.96 L161.51,796.76 L157.87,795.42 L154.33,793.93 L150.88,792.28 L147.53,790.46 L144.29,788.43 L141.17,786.19 L138.17,783.75 L135.26,781.13 L132.44,778.36 L129.70,775.45 L127.02,772.43 L124.39,769.33 L121.80,766.17 L119.23,762.98 L116.67,759.77 L114.12,756.57 L111.55,753.41 L108.96,750.31 L106.33,747.29 L103.65,744.38 L100.91,741.60 L98.09,738.97" fill="none" stroke="#000" stroke-width="4.2" stroke-linejoin="round"/>
<path d="M264.67,473.23 L262.40,474.25 L260.17,475.32 L257.96,476.42 L255.80,477.57 L253.66,478.76 L251.55,479.98 L249.47,481.25 L247.42,482.55 L245.40,483.88 L243.41,485.25 L241.45,486.66 L239.51,488.10 L237.60,489.57 L235.71,491.07 L233.84,492.60 L232.00,494.16 L230.19,495.76 L228.39,497.38 L226.62,499.02 L224.87,500.70 L223.14,502.39 L221.43,504.12 L219.74,505.86 L218.06,507.63 L216.40,509.42 L214.76,511.24 L213.14,513.07 L211.53,514.92 L209.94,516.79 L208.36,518.68 L206.79,520.58 L205.24,522.50 L203.70,524.43 L202.17,526.38 L200.65,528.34 L199.14,530.32 L197.64,532.30 L196.15,534.30 L194.66,536.30 L193.19,538.31 L191.72,540.33 L190.25,542.36 L188.79,544.40 L187.34,546.43 L185.89,548.48 L184.44,550.52 L183.00,552.57 L181.55,554.62 L180.11,556.67 L178.67,558.72 L177.22,560.77 L175.78,562.82 L174.34,564.87 L172.90,566.91 L171.46,568.96 L170.04,571.00 L168.63,573.06 L167.23,575.11 L165.86,577.18 L164.51,579.25 L163.19,581.33 L161.90,583.43 L160.65,585.54 L159.44,587.66 L158.26,589.80 L157.14,591.96 L156.06,594.14 L155.04,596.34 L154.07,598.56 L153.17,600.81 L152.33,603.08 L151.55,605.38 L150.85,607.71 L150.23,610.07 L149.68,612.46 L149.21,614.89 L148.83,617.35 L148.55,619.83 L148.36,622.33 L148.28,624.82 L148.32,627.30 L148.48,629.75 L148.77,632.16 L149.20,634.51 L149.77,636.80 L150.50,639.01 L151.39,641.12 L152.45,643.12 L153.68,645.01 L155.10,646.76 L156.67,648.38 L158.41,649.88 L160.28,651.25 L162.28,652.48 L164.39,653.59 L166.60,654.58 L168.91,655.43 L171.29,656.17 L173.73,656.77 L176.22,657.25 L178.75,657.61 L181.31,657.85 L183.87,657.96 L186.44,657.95 L188.99,657.81 L191.52,657.57 L194.04,657.22 L196.53,656.78 L199.01,656.25 L201.48,655.65 L203.92,655.00 L206.35,654.29 L208.77,653.55 L211.17,652.77 L213.56,651.98 L215.93,651.18 L218.29,650.36 L220.63,649.54 L222.96,648.71 L225.28,647.86 L227.59,647.00 L229.89,646.13 L232.18,645.25 L234.45,644.36 L236.72,643.45 L238.97,642.53 L241.22,641.59 L243.46,640.65 L245.69,639.68 L247.91,638.70 L250.12,637.71 L252.33,636.70 L254.53,635.68 L256.73,634.64 L258.92,633.58 L261.10,632.50 L263.28,631.41 L265.46,630.31 L267.63,629.18 L269.79,628.04 L271.95,626.88 L274.10,625.70 L276.25,624.51 L278.39,623.31 L280.53,622.08 L282.66,620.84 L284.78,619.59 L286.89,618.32 L289.00,617.04 L291.10,615.74 L293.19,614.42 L295.28,613.09 L297.35,611.75 L299.42,610.39 L301.48,609.02 L303.53,607.64 L305.57,606.24 L307.60,604.83 L309.63,603.40 L311.64,601.96 L313.64,600.51 L315.63,599.05 L317.61,597.57 L319.59,596.08 L321.55,594.58 L323.50,593.07 L325.43,591.54 L327.36,590.01 L329.27,588.46 L331.18,586.90 L333.07,585.33 L334.94,583.75 L336.81,582.16 L338.66,580.55 L340.50,578.94 L342.32,577.32 L344.13,575.69 L345.93,574.04 L347.72,572.39 L349.49,570.73 L351.24,569.06 L352.98,567.38 L354.71,565.69 L356.42,563.99 L358.11,562.28 L359.80,560.57 L361.47,558.84 L363.13,557.11 L364.77,555.36 L366.41,553.61 L368.04,551.84 L369.67,550.07 L371.28,548.28 L372.89,546.49 L374.50,544.68 L376.10,542.86 L377.70,541.03 L379.29,539.19 L380.89,537.33 L382.48,535.47 L384.07,533.59 L385.67,531.70 L387.27,529.79 L388.87,527.88 L390.47,525.95 L392.08,524.01 L393.69,522.05 L395.31,520.08 L396.94,518.10 L398.58,516.10 L400.22,514.09 L401.87,512.06 L403.49,510.01 L405.09,507.95 L406.65,505.88 L408.17,503.78 L409.62,501.66 L411.00,499.52 L412.30,497.37 L413.51,495.18 L414.61,492.98 L415.59,490.75 L416.45,488.50 L417.16,486.22 L417.73,483.92 L418.13,481.59 L418.36,479.23 L418.42,476.87 L418.31,474.51 L418.03,472.18 L417.58,469.89 L416.96,467.65 L416.17,465.49 L415.21,463.41 L414.07,461.44 L412.77,459.58 L411.29,457.86 L409.64,456.29 L407.82,454.89 L405.85,453.64 L403.75,452.55 L401.54,451.62 L399.24,450.84 L396.87,450.20 L394.46,449.70 L392.02,449.34 L389.57,449.10 L387.13,449.00 L384.69,449.00 L382.25,449.12 L379.81,449.34 L377.38,449.65 L374.95,450.05 L372.53,450.53 L370.10,451.08 L367.68,451.69 L365.27,452.36 L362.85,453.07 L360.44,453.83 L358.02,454.61 L355.62,455.43 L353.21,456.26 L350.80,457.10 L348.40,457.94 L346.00,458.77 L343.60,459.60 L341.20,460.40 L338.80,461.17 L336.41,461.91 L334.02,462.60 L331.62,463.24 L329.23,463.83 L326.84,464.34 L324.46,464.78 L322.07,465.14 L319.68,465.41 L317.30,465.60 L314.91,465.71 L312.53,465.77 L310.14,465.79 L307.75,465.77 L305.36,465.74 L302.97,465.71 L300.57,465.70 L298.18,465.70 L295.77,465.75 L293.37,465.85 L290.95,466.02 L288.53,466.28 L286.11,466.62 L283.68,467.06 L281.26,467.58 L278.84,468.19 L276.43,468.87 L274.03,469.62 L271.66,470.44 L269.30,471.32 L266.97,472.25 L264.67,473.23 Z" fill="none" stroke="#000" stroke-width="4.2" stroke-linejoin="round"/>
<path d="M227.02,572.52 L226.87,571.72 L226.75,570.92 L226.66,570.11 L226.61,569.31 L226.58,568.50 L226.57,567.69 L226.60,566.88 L226.66,566.07 L226.74,565.26 L226.84,564.45 L226.98,563.64 L227.14,562.83 L227.32,562.02 L227.52,561.21 L227.76,560.40 L228.01,559.59 L228.28,558.79 L228.58,557.99 L228.90,557.19 L229.24,556.39 L229.60,555.60 L229.98,554.81 L230.38,554.02 L230.79,553.24 L231.23,552.46 L231.68,551.69 L232.15,550.92 L232.64,550.15 L233.14,549.39 L233.65,548.64 L234.19,547.89 L234.73,547.15 L235.29,546.42 L235.86,545.69 L236.45,544.97 L237.04,544.25 L237.65,543.55 L238.27,542.85 L238.90,542.16 L239.54,541.48 L240.19,540.81 L240.84,540.14 L241.51,539.49 L242.18,538.84 L242.86,538.21 L243.55,537.59 L244.24,536.97 L244.93,536.37 L245.64,535.78 L246.34,535.20 L247.05,534.63 L247.77,534.07 L248.48,533.53 L249.20,533.00 L249.92,532.48 L250.64,531.98 L251.36,531.48 L252.08,531.01 L252.80,530.54 L253.52,530.09 L254.24,529.65 L254.96,529.23 L255.68,528.82 L256.40,528.42 L257.12,528.03 L257.85,527.65 L258.57,527.29 L259.30,526.93 L260.02,526.59 L260.75,526.25 L261.48,525.93 L262.22,525.61 L262.96,525.31 L263.70,525.01 L264.44,524.72 L265.19,524.44 L265.94,524.17 L266.69,523.90 L267.45,523.64 L268.21,523.39 L268.98,523.14 L269.75,522.90 L270.53,522.67 L271.31,522.44 L272.10,522.21 L272.89,521.99 L273.69,521.78 L274.49,521.57 L275.31,521.36 L276.13,521.15 L276.95,520.95 L277.78,520.75 L278.62,520.55 L279.47,520.36 L280.33,520.16 L281.19,519.97 L282.06,519.78 L282.94,519.59 L283.82,519.40 L284.71,519.22 L285.61,519.05 L286.51,518.88 L287.41,518.71 L288.32,518.56 L289.23,518.41 L290.14,518.27 L291.06,518.14 L291.98,518.02 L292.89,517.91 L293.81,517.81 L294.73,517.73 L295.65,517.65 L296.57,517.59 L297.48,517.55 L298.40,517.52 L299.31,517.50 L300.22,517.50 L301.12,517.52 L302.02,517.56 L302.92,517.61 L303.81,517.68 L304.70,517.78 L305.58,517.89 L306.45,518.03 L307.32,518.19 L308.17,518.37 L309.03,518.57 L309.87,518.80 L310.70,519.05 L311.52,519.33 L312.33,519.63 L313.13,519.96 L313.91,520.31 L314.68,520.68 L315.43,521.08 L316.15,521.50 L316.86,521.94 L317.54,522.40 L318.19,522.88 L318.82,523.38 L319.42,523.89 L319.99,524.43 L320.52,524.98 L321.03,525.55 L321.49,526.14 L321.92,526.74 L322.31,527.36 L322.65,528.00 L322.96,528.64 L323.21,529.30 L323.43,529.98 L323.59,530.66 L323.70,531.36 L323.77,532.07 L323.78,532.79 L323.74,533.52 L323.66,534.25 L323.53,534.99 L323.36,535.74 L323.15,536.50 L322.90,537.26 L322.61,538.02 L322.29,538.78 L321.93,539.55 L321.53,540.31 L321.11,541.07 L320.65,541.84 L320.17,542.60 L319.66,543.35 L319.13,544.11 L318.57,544.85 L318.00,545.59 L317.40,546.32 L316.78,547.05 L316.15,547.76 L315.51,548.46 L314.85,549.16 L314.18,549.84 L313.50,550.50 L312.81,551.15 L312.12,551.79 L311.42,552.41 L310.71,553.02 L310.00,553.62 L309.28,554.20 L308.56,554.77 L307.84,555.33 L307.11,555.88 L306.38,556.41 L305.65,556.94 L304.91,557.46 L304.18,557.96 L303.45,558.46 L302.71,558.95 L301.98,559.43 L301.25,559.90 L300.52,560.36 L299.79,560.82 L299.06,561.27 L298.34,561.72 L297.62,562.15 L296.91,562.59 L296.19,563.01 L295.48,563.44 L294.77,563.85 L294.06,564.27 L293.36,564.68 L292.65,565.08 L291.95,565.48 L291.24,565.88 L290.54,566.27 L289.84,566.66 L289.13,567.05 L288.43,567.44 L287.72,567.82 L287.02,568.20 L286.31,568.58 L285.60,568.96 L284.89,569.34 L284.17,569.71 L283.46,570.09 L282.74,570.46 L282.01,570.84 L281.29,571.21 L280.56,571.59 L279.82,571.97 L279.08,572.34 L278.34,572.72 L277.59,573.10 L276.84,573.49 L276.08,573.87 L275.31,574.26 L274.54,574.65 L273.77,575.04 L272.98,575.43 L272.19,575.83 L271.40,576.23 L270.59,576.64 L269.78,577.05 L268.96,577.46 L268.13,577.88 L267.30,578.29 L266.46,578.71 L265.62,579.12 L264.77,579.53 L263.91,579.94 L263.06,580.35 L262.20,580.74 L261.33,581.14 L260.47,581.52 L259.60,581.90 L258.73,582.26 L257.86,582.62 L256.98,582.96 L256.11,583.29 L255.24,583.61 L254.37,583.91 L253.49,584.20 L252.62,584.47 L251.76,584.72 L250.89,584.95 L250.03,585.16 L249.17,585.35 L248.31,585.52 L247.46,585.66 L246.62,585.78 L245.77,585.88 L244.94,585.95 L244.11,585.99 L243.28,586.00 L242.47,585.98 L241.66,585.93 L240.85,585.85 L240.06,585.74 L239.28,585.60 L238.50,585.42 L237.74,585.20 L236.99,584.96 L236.26,584.67 L235.55,584.36 L234.86,584.01 L234.18,583.62 L233.53,583.20 L232.91,582.74 L232.31,582.25 L231.73,581.72 L231.19,581.16 L230.68,580.56 L230.19,579.93 L229.74,579.28 L229.32,578.59 L228.92,577.89 L228.56,577.16 L228.23,576.42 L227.92,575.66 L227.65,574.89 L227.41,574.10 L227.20,573.31 L227.02,572.52 Z" fill="none" stroke="#000" stroke-width="4.2" stroke-linejoin="round"/>
</g>
<path d="M553.1,463.85 L567.45,478.2 L553.1,492.55 L538.75,478.2 Z" fill="#98fb98" stroke="#008000" stroke-width="3.75" stroke-linejoin="miter"/>
<line x1="615.8" y1="403.1" x2="720.3" y2="403.1" stroke="#d62728" stroke-width="5.9" stroke-linecap="butt"/>
<line x1="615.8" y1="382.8" x2="615.8" y2="423.4" stroke="#d62728" stroke-width="4.4" stroke-linecap="butt"/>
<line x1="720.3" y1="403.1" x2="824.9" y2="403.1" stroke="#d62728" stroke-width="5.9" stroke-linecap="butt"/>
<line x1="824.9" y1="382.8" x2="824.9" y2="423.4" stroke="#d62728" stroke-width="4.4" stroke-linecap="butt"/>
<line x1="720.3" y1="383.9" x2="720.3" y2="403.1" stroke="#d62728" stroke-width="5.9" stroke-linecap="butt"/>
<line x1="700.1" y1="383.9" x2="740.5" y2="383.9" stroke="#d62728" stroke-width="4.4" stroke-linecap="butt"/>
<line x1="720.3" y1="403.1" x2="720.3" y2="422.2" stroke="#d62728" stroke-width="5.9" stroke-linecap="butt"/>
<line x1="700.1" y1="422.2" x2="740.5" y2="422.2" stroke="#d62728" stroke-width="4.4" stroke-linecap="butt"/>
<path d="M720.3,388.35 L735.05,403.1 L720.3,417.85 L705.55,403.1 Z" fill="none" stroke="#d62728" stroke-width="3.6" stroke-linejoin="miter"/>
<line x1="427.9" y1="435.9" x2="451.95" y2="435.9" stroke="#d62728" stroke-width="5.9" stroke-linecap="butt"/>
<line x1="427.9" y1="415.6" x2="427.9" y2="456.2" stroke="#d62728" stroke-width="4.4" stroke-linecap="butt"/>
<line x1="451.95" y1="435.9" x2="475.7" y2="435.9" stroke="#d62728" stroke-width="5.9" stroke-linecap="butt"/>
<line x1="475.7" y1="415.6" x2="475.7" y2="456.2" stroke="#d62728" stroke-width="4.4" stroke-linecap="butt"/>
<line x1="451.95" y1="430.9" x2="451.95" y2="435.9" stroke="#d62728" stroke-width="5.9" stroke-linecap="butt"/>
<line x1="431.75" y1="430.9" x2="472.15" y2="430.9" stroke="#d62728" stroke-width="4.4" stroke-linecap="butt"/>
<line x1="451.95" y1="435.9" x2="451.95" y2="440.8" stroke="#d62728" stroke-width="5.9" stroke-linecap="butt"/>
<line x1="431.75" y1="440.8" x2="472.15" y2="440.8" stroke="#d62728" stroke-width="4.4" stroke-linecap="butt"/>
<path d="M451.95,421.15 L466.7,435.9 L451.95,450.65 L437.2,435.9 Z" fill="none" stroke="#d62728" stroke-width="3.6" stroke-linejoin="miter"/>
<line x1="613.8" y1="629.4" x2="657.4" y2="629.4" stroke="#d62728" stroke-width="5.9" stroke-linecap="butt"/>
<line x1="613.8" y1="609.1" x2="613.8" y2="649.7" stroke="#d62728" stroke-width="4.4" stroke-linecap="butt"/>
<line x1="657.4" y1="629.4" x2="700.9" y2="629.4" stroke="#d62728" stroke-width="5.9" stroke-linecap="butt"/>
<line x1="700.9" y1="609.1" x2="700.9" y2="649.7" stroke="#d62728" stroke-width="4.4" stroke-linecap="butt"/>
<line x1="657.4" y1="621" x2="657.4" y2="629.4" stroke="#d62728" stroke-width="5.9" stroke-linecap="butt"/>
<line x1="637.2" y1="621" x2="677.6" y2="621" stroke="#d62728" stroke-width="4.4" stroke-linecap="butt"/>
<line x1="657.4" y1="629.4" x2="657.4" y2="638" stroke="#d62728" stroke-width="5.9" stroke-linecap="butt"/>
<line x1="637.2" y1="638" x2="677.6" y2="638" stroke="#d62728" stroke-width="4.4" stroke-linecap="butt"/>
<path d="M657.4,614.65 L672.15,629.4 L657.4,644.15 L642.65,629.4 Z" fill="none" stroke="#d62728" stroke-width="3.6" stroke-linejoin="miter"/>
<line x1="530.3" y1="343.1" x2="593.5" y2="343.1" stroke="#808080" stroke-width="5.6" stroke-linecap="butt"/>
<line x1="530.3" y1="330.9" x2="530.3" y2="355.3" stroke="#808080" stroke-width="4" stroke-linecap="butt"/>
<line x1="593.5" y1="343.1" x2="656.5" y2="343.1" stroke="#808080" stroke-width="5.6" stroke-linecap="butt"/>
<line x1="656.5" y1="330.9" x2="656.5" y2="355.3" stroke="#808080" stroke-width="4" stroke-linecap="butt"/>
<line x1="593.5" y1="319" x2="593.5" y2="343.1" stroke="#808080" stroke-width="5.6" stroke-linecap="butt"/>
<line x1="581.2" y1="319" x2="605.8" y2="319" stroke="#808080" stroke-width="4" stroke-linecap="butt"/>
<line x1="593.5" y1="343.1" x2="593.5" y2="367.3" stroke="#808080" stroke-width="5.6" stroke-linecap="butt"/>
<line x1="581.2" y1="367.3" x2="605.8" y2="367.3" stroke="#808080" stroke-width="4" stroke-linecap="butt"/>
<path d="M588.16,330.2 L598.84,330.2 L606.4,337.76 L606.4,348.44 L598.84,356 L588.16,356 L580.6,348.44 L580.6,337.76 Z" fill="#808080" stroke="none" stroke-width="0" stroke-linejoin="miter"/>
<line x1="586.9" y1="336.5" x2="600.1" y2="349.7" stroke="#ffff00" stroke-width="2.6" stroke-linecap="butt"/>
<line x1="586.9" y1="349.7" x2="600.1" y2="336.5" stroke="#ffff00" stroke-width="2.6" stroke-linecap="butt"/>
<line x1="610.5" y1="418.8" x2="641.2" y2="418.8" stroke="#808080" stroke-width="5.5" stroke-linecap="butt"/>
<line x1="610.5" y1="406.7" x2="610.5" y2="430.9" stroke="#808080" stroke-width="4" stroke-linecap="butt"/>
<line x1="641.2" y1="418.8" x2="671.9" y2="418.8" stroke="#808080" stroke-width="5.5" stroke-linecap="butt"/>
<line x1="671.9" y1="406.7" x2="671.9" y2="430.9" stroke="#808080" stroke-width="4" stroke-linecap="butt"/>
<line x1="641.2" y1="407.9" x2="641.2" y2="418.8" stroke="#808080" stroke-width="5.5" stroke-linecap="butt"/>
<line x1="629.1" y1="407.9" x2="653.3" y2="407.9" stroke="#808080" stroke-width="4" stroke-linecap="butt"/>
<line x1="641.2" y1="418.8" x2="641.2" y2="429.9" stroke="#808080" stroke-width="5.5" stroke-linecap="butt"/>
<line x1="629.1" y1="429.9" x2="653.3" y2="429.9" stroke="#808080" stroke-width="4" stroke-linecap="butt"/>
<path d="M641.2,404.6 L655.4,418.8 L641.2,433 L627,418.8 Z" fill="#ffff00" stroke="#808080" stroke-width="4.1" stroke-linejoin="miter"/>
<line x1="721" y1="459.3" x2="731.4" y2="459.3" stroke="#000" stroke-width="6.2" stroke-linecap="butt"/>
<line x1="721" y1="447.15" x2="721" y2="471.45" stroke="#000" stroke-width="4" stroke-linecap="butt"/>
<line x1="731.4" y1="459.3" x2="741.8" y2="459.3" stroke="#000" stroke-width="6.2" stroke-linecap="butt"/>
<line x1="741.8" y1="447.15" x2="741.8" y2="471.45" stroke="#000" stroke-width="4" stroke-linecap="butt"/>
<path d="M731.4,444.95 L745.75,459.3 L731.4,473.65 L717.05,459.3 Z" fill="none" stroke="#000" stroke-width="4" stroke-linejoin="miter"/>
<line x1="772.8" y1="459.3" x2="780.4" y2="459.3" stroke="#000" stroke-width="6.2" stroke-linecap="butt"/>
<line x1="772.8" y1="447.15" x2="772.8" y2="471.45" stroke="#000" stroke-width="4" stroke-linecap="butt"/>
<line x1="780.4" y1="459.3" x2="788.5" y2="459.3" stroke="#000" stroke-width="6.2" stroke-linecap="butt"/>
<line x1="788.5" y1="447.15" x2="788.5" y2="471.45" stroke="#000" stroke-width="4" stroke-linecap="butt"/>
<path d="M780.4,444.95 L794.75,459.3 L780.4,473.65 L766.05,459.3 Z" fill="#ff69b4" stroke="#000" stroke-width="4" stroke-linejoin="miter"/>
<line x1="737.6" y1="599.1" x2="737.6" y2="649.4" stroke="#ffa500" stroke-width="6" stroke-linecap="butt" stroke-opacity="0.5"/>
<line x1="725.35" y1="599.1" x2="749.85" y2="599.1" stroke="#ffa500" stroke-width="4.3" stroke-linecap="butt" stroke-opacity="0.5"/>
<line x1="737.6" y1="649.4" x2="737.6" y2="694.6" stroke="#ffa500" stroke-width="6" stroke-linecap="butt" stroke-opacity="0.5"/>
<line x1="725.35" y1="694.6" x2="749.85" y2="694.6" stroke="#ffa500" stroke-width="4.3" stroke-linecap="butt" stroke-opacity="0.5"/>
<line x1="737.6" y1="649.4" x2="781.6" y2="649.4" stroke="#ffa500" stroke-width="6" stroke-linecap="butt" stroke-opacity="0.5"/>
<path d="M781.6,635.7 L804.3,649.4 L781.6,663.1 Z" fill="#ffa500" stroke="none" stroke-width="0" stroke-linejoin="miter" opacity="0.5"/>
<path d="M725.2,637 L750,637 L750,661.8 L725.2,661.8 Z" fill="#ffff00" stroke="#ffa500" stroke-width="3.5" stroke-linejoin="miter" opacity="0.5"/>
<line x1="742" y1="589.2" x2="742" y2="639.1" stroke="#ffa500" stroke-width="6" stroke-linecap="butt" stroke-opacity="0.5"/>
<line x1="729.85" y1="589.2" x2="754.15" y2="589.2" stroke="#ffa500" stroke-width="4.3" stroke-linecap="butt" stroke-opacity="0.5"/>
<line x1="742" y1="639.1" x2="742" y2="684.6" stroke="#ffa500" stroke-width="6" stroke-linecap="butt" stroke-opacity="0.5"/>
<line x1="729.85" y1="684.6" x2="754.15" y2="684.6" stroke="#ffa500" stroke-width="4.3" stroke-linecap="butt" stroke-opacity="0.5"/>
<line x1="742" y1="639.1" x2="786.3" y2="639.1" stroke="#ffa500" stroke-width="6" stroke-linecap="butt" stroke-opacity="0.5"/>
<path d="M786.3,625.4 L809,639.1 L786.3,652.8 Z" fill="#ffa500" stroke="none" stroke-width="0" stroke-linejoin="miter" opacity="0.5"/>
<circle cx="742" cy="639.1" r="11.95" fill="#ffff00" stroke="#ffa500" stroke-width="3.5" opacity="0.5"/>
<line x1="782.4" y1="569.1" x2="782.4" y2="619.6" stroke="#ffa500" stroke-width="6" stroke-linecap="butt"/>
<line x1="770.1" y1="569.1" x2="794.7" y2="569.1" stroke="#ffa500" stroke-width="4.4" stroke-linecap="butt"/>
<line x1="782.4" y1="619.6" x2="782.4" y2="664.5" stroke="#ffa500" stroke-width="6" stroke-linecap="butt"/>
<line x1="770.1" y1="664.5" x2="794.7" y2="664.5" stroke="#ffa500" stroke-width="4.4" stroke-linecap="butt"/>
<line x1="782.4" y1="619.6" x2="827.1" y2="619.6" stroke="#ffa500" stroke-width="6" stroke-linecap="butt"/>
<path d="M827.1,605.9 L849.8,619.6 L827.1,633.3 Z" fill="#ffa500" stroke="none" stroke-width="0" stroke-linejoin="miter"/>
<path d="M782.4,599.6 L777.91,613.42 L763.38,613.42 L775.13,621.96 L770.64,635.78 L782.4,627.24 L794.16,635.78 L789.67,621.96 L801.42,613.42 L786.89,613.42 Z" fill="#ffff00" stroke="#ffa500" stroke-width="4.2" stroke-linejoin="bevel"/>
<line x1="152.9" y1="870.8" x2="152.9" y2="850.3" stroke="#000" stroke-width="3.6" stroke-linecap="butt"/>
<text x="152.9" y="906.4" font-size="28.5" text-anchor="middle" fill="#000">−1.00</text>
<line x1="265.15" y1="870.8" x2="265.15" y2="850.3" stroke="#000" stroke-width="3.6" stroke-linecap="butt"/>
<text x="265.15" y="906.4" font-size="28.5" text-anchor="middle" fill="#000">−0.75</text>
<line x1="377.4" y1="870.8" x2="377.4" y2="850.3" stroke="#000" stroke-width="3.6" stroke-linecap="butt"/>
<text x="377.4" y="906.4" font-size="28.5" text-anchor="middle" fill="#000">−0.50</text>
<line x1="489.65" y1="870.8" x2="489.65" y2="850.3" stroke="#000" stroke-width="3.6" stroke-linecap="butt"/>
<text x="489.65" y="906.4" font-size="28.5" text-anchor="middle" fill="#000">−0.25</text>
<line x1="601.9" y1="870.8" x2="601.9" y2="850.3" stroke="#000" stroke-width="3.6" stroke-linecap="butt"/>
<text x="601.9" y="906.4" font-size="28.5" text-anchor="middle" fill="#000">0.00</text>
<line x1="714.15" y1="870.8" x2="714.15" y2="850.3" stroke="#000" stroke-width="3.6" stroke-linecap="butt"/>
<text x="714.15" y="906.4" font-size="28.5" text-anchor="middle" fill="#000">0.25</text>
<line x1="826.4" y1="870.8" x2="826.4" y2="850.3" stroke="#000" stroke-width="3.6" stroke-linecap="butt"/>
<text x="826.4" y="906.4" font-size="28.5" text-anchor="middle" fill="#000">0.50</text>
<line x1="938.65" y1="870.8" x2="938.65" y2="850.3" stroke="#000" stroke-width="3.6" stroke-linecap="butt"/>
<text x="938.65" y="906.4" font-size="28.5" text-anchor="middle" fill="#000">0.75</text>
<line x1="108" y1="780.3" x2="128.5" y2="780.3" stroke="#000" stroke-width="3.6" stroke-linecap="butt"/>
<text x="93.7" y="791.1" font-size="28.5" text-anchor="end" fill="#000">0.2</text>
<line x1="108" y1="679.8" x2="128.5" y2="679.8" stroke="#000" stroke-width="3.6" stroke-linecap="butt"/>
<text x="93.7" y="690.6" font-size="28.5" text-anchor="end" fill="#000">0.4</text>
<line x1="108" y1="579.3" x2="128.5" y2="579.3" stroke="#000" stroke-width="3.6" stroke-linecap="butt"/>
<text x="93.7" y="590.1" font-size="28.5" text-anchor="end" fill="#000">0.6</text>
<line x1="108" y1="478.8" x2="128.5" y2="478.8" stroke="#000" stroke-width="3.6" stroke-linecap="butt"/>
<text x="93.7" y="489.6" font-size="28.5" text-anchor="end" fill="#000">0.8</text>
<line x1="108" y1="378.3" x2="128.5" y2="378.3" stroke="#000" stroke-width="3.6" stroke-linecap="butt"/>
<text x="93.7" y="389.1" font-size="28.5" text-anchor="end" fill="#000">1.0</text>
<line x1="108" y1="277.8" x2="128.5" y2="277.8" stroke="#000" stroke-width="3.6" stroke-linecap="butt"/>
<text x="93.7" y="288.6" font-size="28.5" text-anchor="end" fill="#000">1.2</text>
<line x1="108" y1="177.3" x2="128.5" y2="177.3" stroke="#000" stroke-width="3.6" stroke-linecap="butt"/>
<text x="93.7" y="188.1" font-size="28.5" text-anchor="end" fill="#000">1.4</text>
<line x1="108" y1="76.8" x2="128.5" y2="76.8" stroke="#000" stroke-width="3.6" stroke-linecap="butt"/>
<text x="93.7" y="87.6" font-size="28.5" text-anchor="end" fill="#000">1.6</text>
<rect x="108" y="1.2" width="853" height="869.6" fill="none" stroke="#000" stroke-width="3.6" stroke-linejoin="miter"/>
<text x="532.7" y="949.8" font-size="28.5" text-anchor="middle" fill="#000">log([NeIII]λ3868/[OII]λ3727)</text>
<text transform="translate(21.7,574.5) rotate(-90)" font-size="28.5">log([OIII]λ5007/Hβ)</text>
<rect x="141.5" y="19.5" width="804.1" height="203.4" rx="4.5" ry="4.5" fill="#fff" stroke="#0b0b0b" stroke-width="3.8"/>
<text x="225.6" y="52.24" font-size="26.5" text-anchor="start" fill="#000">This work, fiducial</text>
<text x="225.6" y="91.01" font-size="26.5" text-anchor="start" fill="#000">This work, test 1</text>
<text x="225.6" y="129.78" font-size="26.5" text-anchor="start" fill="#000">This work, test 2</text>
<text x="225.6" y="168.55" font-size="26.5" text-anchor="start" fill="#000">Tripodi+24 [130]</text>
<text x="225.6" y="207.32" font-size="26.5" text-anchor="start" fill="#000">Trussler+23 [54]</text>
<text x="589.9" y="52.24" font-size="26.5" text-anchor="start" fill="#000">Übler+24 [21]</text>
<text x="589.9" y="91.01" font-size="26.5" text-anchor="start" fill="#000">GS3073 [57]</text>
<text x="589.9" y="129.78" font-size="26.5" text-anchor="start" fill="#000">MOSDEF: z~2 [128,129]</text>
<text x="589.9" y="168.55" font-size="26.5" text-anchor="start" fill="#000">SDSS AGN: z~0 [122,127]</text>
<text x="589.9" y="207.32" font-size="26.5" text-anchor="start" fill="#000">SDSS Gals: z~0 [122,127]</text>
<line x1="164.7" y1="42.24" x2="192.1" y2="42.24" stroke="#ffa500" stroke-width="5.7" stroke-linecap="butt"/>
<line x1="178.4" y1="29.54" x2="178.4" y2="54.94" stroke="#ffa500" stroke-width="5.7" stroke-linecap="butt"/>
<line x1="164.7" y1="30.04" x2="164.7" y2="54.44" stroke="#ffa500" stroke-width="4.2" stroke-linecap="butt"/>
<line x1="192.1" y1="30.04" x2="192.1" y2="54.44" stroke="#ffa500" stroke-width="4.2" stroke-linecap="butt"/>
<line x1="166.2" y1="29.54" x2="190.6" y2="29.54" stroke="#ffa500" stroke-width="4.2" stroke-linecap="butt"/>
<line x1="166.2" y1="54.94" x2="190.6" y2="54.94" stroke="#ffa500" stroke-width="4.2" stroke-linecap="butt"/>
<path d="M178.4,22.24 L173.91,36.06 L159.38,36.06 L171.13,44.6 L166.64,58.42 L178.4,49.88 L190.16,58.42 L185.67,44.6 L197.42,36.06 L182.89,36.06 Z" fill="#ffff00" stroke="#ffa500" stroke-width="4.2" stroke-linejoin="bevel"/>
<line x1="164.7" y1="81.41" x2="192.1" y2="81.41" stroke="#ffa500" stroke-width="5.7" stroke-linecap="butt" stroke-opacity="0.5"/>
<line x1="178.4" y1="68.71" x2="178.4" y2="94.11" stroke="#ffa500" stroke-width="5.7" stroke-linecap="butt" stroke-opacity="0.5"/>
<line x1="164.7" y1="69.21" x2="164.7" y2="93.61" stroke="#ffa500" stroke-width="4.2" stroke-linecap="butt" stroke-opacity="0.5"/>
<line x1="192.1" y1="69.21" x2="192.1" y2="93.61" stroke="#ffa500" stroke-width="4.2" stroke-linecap="butt" stroke-opacity="0.5"/>
<line x1="166.2" y1="68.71" x2="190.6" y2="68.71" stroke="#ffa500" stroke-width="4.2" stroke-linecap="butt" stroke-opacity="0.5"/>
<line x1="166.2" y1="94.11" x2="190.6" y2="94.11" stroke="#ffa500" stroke-width="4.2" stroke-linecap="butt" stroke-opacity="0.5"/>
<path d="M166,69.01 L190.8,69.01 L190.8,93.81 L166,93.81 Z" fill="#ffff00" stroke="#ffa500" stroke-width="3.5" stroke-linejoin="miter" opacity="0.5"/>
<line x1="164.7" y1="120.18" x2="192.1" y2="120.18" stroke="#ffa500" stroke-width="5.7" stroke-linecap="butt" stroke-opacity="0.5"/>
<line x1="178.4" y1="107.48" x2="178.4" y2="132.88" stroke="#ffa500" stroke-width="5.7" stroke-linecap="butt" stroke-opacity="0.5"/>
<line x1="164.7" y1="107.98" x2="164.7" y2="132.38" stroke="#ffa500" stroke-width="4.2" stroke-linecap="butt" stroke-opacity="0.5"/>
<line x1="192.1" y1="107.98" x2="192.1" y2="132.38" stroke="#ffa500" stroke-width="4.2" stroke-linecap="butt" stroke-opacity="0.5"/>
<line x1="166.2" y1="107.48" x2="190.6" y2="107.48" stroke="#ffa500" stroke-width="4.2" stroke-linecap="butt" stroke-opacity="0.5"/>
<line x1="166.2" y1="132.88" x2="190.6" y2="132.88" stroke="#ffa500" stroke-width="4.2" stroke-linecap="butt" stroke-opacity="0.5"/>
<circle cx="178.4" cy="120.18" r="11.95" fill="#ffff00" stroke="#ffa500" stroke-width="3.5" opacity="0.5"/>
<line x1="164.4" y1="159.05" x2="192.4" y2="159.05" stroke="#008000" stroke-width="4" stroke-linecap="butt"/>
<line x1="178.4" y1="145.45" x2="178.4" y2="172.65" stroke="#008000" stroke-width="4" stroke-linecap="butt"/>
<line x1="164.4" y1="146.55" x2="164.4" y2="171.55" stroke="#008000" stroke-width="4" stroke-linecap="butt"/>
<line x1="192.4" y1="146.55" x2="192.4" y2="171.55" stroke="#008000" stroke-width="4" stroke-linecap="butt"/>
<line x1="165.9" y1="145.45" x2="190.9" y2="145.45" stroke="#008000" stroke-width="4" stroke-linecap="butt"/>
<line x1="165.9" y1="172.65" x2="190.9" y2="172.65" stroke="#008000" stroke-width="4" stroke-linecap="butt"/>
<path d="M178.4,144.7 L192.75,159.05 L178.4,173.4 L164.05,159.05 Z" fill="#98fb98" stroke="#008000" stroke-width="3.75" stroke-linejoin="miter"/>
<line x1="165.2" y1="197.72" x2="191.6" y2="197.72" stroke="#d62728" stroke-width="5.7" stroke-linecap="butt"/>
<line x1="178.4" y1="184.72" x2="178.4" y2="210.72" stroke="#d62728" stroke-width="5.7" stroke-linecap="butt"/>
<line x1="165.2" y1="177.42" x2="165.2" y2="218.02" stroke="#d62728" stroke-width="4" stroke-linecap="butt"/>
<line x1="191.6" y1="177.42" x2="191.6" y2="218.02" stroke="#d62728" stroke-width="4" stroke-linecap="butt"/>
<line x1="158.1" y1="184.72" x2="198.7" y2="184.72" stroke="#d62728" stroke-width="4" stroke-linecap="butt"/>
<line x1="158.1" y1="210.72" x2="198.7" y2="210.72" stroke="#d62728" stroke-width="4" stroke-linecap="butt"/>
<path d="M178.4,182.97 L193.15,197.72 L178.4,212.47 L163.65,197.72 Z" fill="none" stroke="#d62728" stroke-width="3.6" stroke-linejoin="miter"/>
<line x1="514" y1="42.8" x2="540.6" y2="42.8" stroke="#808080" stroke-width="5.6" stroke-linecap="butt"/>
<line x1="527.3" y1="29.6" x2="527.3" y2="56" stroke="#808080" stroke-width="5.6" stroke-linecap="butt"/>
<line x1="514" y1="31" x2="514" y2="54.6" stroke="#808080" stroke-width="4" stroke-linecap="butt"/>
<line x1="540.6" y1="31" x2="540.6" y2="54.6" stroke="#808080" stroke-width="4" stroke-linecap="butt"/>
<line x1="515.5" y1="29.6" x2="539.1" y2="29.6" stroke="#808080" stroke-width="4" stroke-linecap="butt"/>
<line x1="515.5" y1="56" x2="539.1" y2="56" stroke="#808080" stroke-width="4" stroke-linecap="butt"/>
<path d="M522.21,30.5 L532.39,30.5 L539.6,37.71 L539.6,47.89 L532.39,55.1 L522.21,55.1 L515,47.89 L515,37.71 Z" fill="#808080" stroke="none" stroke-width="0" stroke-linejoin="miter"/>
<line x1="520.7" y1="36.2" x2="533.9" y2="49.4" stroke="#ffff00" stroke-width="2.6" stroke-linecap="butt"/>
<line x1="520.7" y1="49.4" x2="533.9" y2="36.2" stroke="#ffff00" stroke-width="2.6" stroke-linecap="butt"/>
<line x1="545.7" y1="42.8" x2="572.3" y2="42.8" stroke="#808080" stroke-width="5.6" stroke-linecap="butt"/>
<line x1="559" y1="29.6" x2="559" y2="56" stroke="#808080" stroke-width="5.6" stroke-linecap="butt"/>
<line x1="545.7" y1="31" x2="545.7" y2="54.6" stroke="#808080" stroke-width="4" stroke-linecap="butt"/>
<line x1="572.3" y1="31" x2="572.3" y2="54.6" stroke="#808080" stroke-width="4" stroke-linecap="butt"/>
<line x1="547.2" y1="29.6" x2="570.8" y2="29.6" stroke="#808080" stroke-width="4" stroke-linecap="butt"/>
<line x1="547.2" y1="56" x2="570.8" y2="56" stroke="#808080" stroke-width="4" stroke-linecap="butt"/>
<path d="M559,28.6 L573.2,42.8 L559,57 L544.8,42.8 Z" fill="#ffff00" stroke="#808080" stroke-width="4.1" stroke-linejoin="miter"/>
<line x1="514" y1="81.5" x2="540.6" y2="81.5" stroke="#000" stroke-width="6" stroke-linecap="butt"/>
<line x1="527.3" y1="68.3" x2="527.3" y2="94.7" stroke="#000" stroke-width="6" stroke-linecap="butt"/>
<line x1="514" y1="69.7" x2="514" y2="93.3" stroke="#000" stroke-width="4" stroke-linecap="butt"/>
<line x1="540.6" y1="69.7" x2="540.6" y2="93.3" stroke="#000" stroke-width="4" stroke-linecap="butt"/>
<line x1="515.5" y1="68.3" x2="539.1" y2="68.3" stroke="#000" stroke-width="4" stroke-linecap="butt"/>
<line x1="515.5" y1="94.7" x2="539.1" y2="94.7" stroke="#000" stroke-width="4" stroke-linecap="butt"/>
<path d="M527.3,67.15 L541.65,81.5 L527.3,95.85 L512.95,81.5 Z" fill="#ff69b4" stroke="#000" stroke-width="4" stroke-linejoin="miter"/>
<line x1="545.7" y1="81.5" x2="572.3" y2="81.5" stroke="#000" stroke-width="6" stroke-linecap="butt"/>
<line x1="559" y1="68.3" x2="559" y2="94.7" stroke="#000" stroke-width="6" stroke-linecap="butt"/>
<line x1="545.7" y1="69.7" x2="545.7" y2="93.3" stroke="#000" stroke-width="4" stroke-linecap="butt"/>
<line x1="572.3" y1="69.7" x2="572.3" y2="93.3" stroke="#000" stroke-width="4" stroke-linecap="butt"/>
<line x1="547.2" y1="68.3" x2="570.8" y2="68.3" stroke="#000" stroke-width="4" stroke-linecap="butt"/>
<line x1="547.2" y1="94.7" x2="570.8" y2="94.7" stroke="#000" stroke-width="4" stroke-linecap="butt"/>
<path d="M559,67.15 L573.35,81.5 L559,95.85 L544.65,81.5 Z" fill="none" stroke="#000" stroke-width="4" stroke-linejoin="miter"/>
<line x1="512.6" y1="120.4" x2="574" y2="120.4" stroke="#000" stroke-width="8.5" stroke-linecap="butt"/>
<rect x="508.7" y="151.1" width="69.3" height="16.5" fill="#4169e1"/>
<rect x="508.7" y="189.6" width="69.3" height="16.3" fill="#ff1493"/>
<g clip-path="url(#clipR)">
<line x1="1592.4" y1="701" x2="1212.3" y2="736.6" stroke="url(#g1)" stroke-width="7.5" stroke-linecap="round"/>
<line x1="1212.3" y1="736.6" x2="1124.5" y2="869" stroke="url(#g2)" stroke-width="7.5" stroke-linecap="round"/>
<line x1="1124.5" y1="869" x2="1118.5" y2="878" stroke="url(#g3)" stroke-width="7.5" stroke-linecap="round"/>
<line x1="1541.8" y1="410.8" x2="1201.8" y2="476.4" stroke="url(#g4)" stroke-width="7.5" stroke-linecap="round"/>
<line x1="1201.8" y1="476.4" x2="1054.8" y2="784" stroke="url(#g5)" stroke-width="7.5" stroke-linecap="round"/>
<line x1="1201.8" y1="476.4" x2="1207.5" y2="610" stroke="url(#g6)" stroke-width="7.5" stroke-linecap="round"/>
<line x1="1207.5" y1="610" x2="1212.3" y2="736.6" stroke="url(#g7)" stroke-width="7.5" stroke-linecap="round"/>
<line x1="1212.3" y1="736.6" x2="1217" y2="878" stroke="url(#g8)" stroke-width="7.5" stroke-linecap="round"/>
<line x1="1024.7" y1="670.3" x2="1016.4" y2="697.7" stroke="url(#g9)" stroke-width="7.5" stroke-linecap="round"/>
<line x1="1016.4" y1="697.7" x2="1016.4" y2="757" stroke="url(#g10)" stroke-width="7.5" stroke-linecap="round"/>
<line x1="1016.4" y1="757" x2="1018" y2="878" stroke="url(#g11)" stroke-width="7.5" stroke-linecap="round"/>
<line x1="1054.8" y1="784" x2="1024.7" y2="670.3" stroke="url(#g12)" stroke-width="7.5" stroke-linecap="round"/>
<line x1="1392.5" y1="239.4" x2="1199.9" y2="459.3" stroke="url(#g13)" stroke-width="7.5" stroke-linecap="round"/>
<line x1="1199.9" y1="459.3" x2="1017" y2="757.4" stroke="url(#g14)" stroke-width="7.5" stroke-linecap="round"/>
<line x1="1183.1" y1="382.2" x2="1195.4" y2="423" stroke="url(#g15)" stroke-width="7.5" stroke-linecap="round"/>
<line x1="1195.4" y1="423" x2="1199.9" y2="459.3" stroke="url(#g16)" stroke-width="7.5" stroke-linecap="round"/>
<line x1="1392.5" y1="239.4" x2="1420" y2="261.2" stroke="url(#g17)" stroke-width="7.5" stroke-linecap="round"/>
<line x1="1420" y1="261.2" x2="1443.3" y2="276" stroke="url(#g18)" stroke-width="7.5" stroke-linecap="round"/>
<line x1="1443.3" y1="276" x2="1503.1" y2="346.6" stroke="url(#g19)" stroke-width="7.5" stroke-linecap="round"/>
<line x1="1503.1" y1="346.6" x2="1515.3" y2="370" stroke="url(#g20)" stroke-width="7.5" stroke-linecap="round"/>
<line x1="1515.3" y1="370" x2="1531.6" y2="395.8" stroke="url(#g21)" stroke-width="7.5" stroke-linecap="round"/>
<line x1="1531.6" y1="395.8" x2="1542" y2="410.8" stroke="url(#g22)" stroke-width="7.5" stroke-linecap="round"/>
<line x1="1542" y1="410.8" x2="1545.2" y2="429.8" stroke="url(#g23)" stroke-width="7.5" stroke-linecap="round"/>
<line x1="1545.2" y1="429.8" x2="1561.5" y2="522.2" stroke="url(#g24)" stroke-width="7.5" stroke-linecap="round"/>
<line x1="1561.5" y1="522.2" x2="1580.6" y2="630" stroke="url(#g25)" stroke-width="7.5" stroke-linecap="round"/>
<line x1="1580.6" y1="630" x2="1592.4" y2="693.9" stroke="url(#g26)" stroke-width="7.5" stroke-linecap="round"/>
<line x1="1592.4" y1="693.9" x2="1593.8" y2="701" stroke="url(#g27)" stroke-width="7.5" stroke-linecap="round"/>
<line x1="1593.8" y1="701" x2="1581" y2="719.5" stroke="url(#g28)" stroke-width="7.5" stroke-linecap="round"/>
<line x1="1581" y1="719.5" x2="1480" y2="854.7" stroke="url(#g29)" stroke-width="7.5" stroke-linecap="round"/>
<line x1="1480" y1="854.7" x2="1473" y2="878" stroke="url(#g30)" stroke-width="7.5" stroke-linecap="round"/>
<circle cx="1392.5" cy="239.4" r="4.6" fill="#5a5a5a" stroke="none" stroke-width="0" opacity="0.7"/>
<circle cx="1199.9" cy="459.3" r="4.6" fill="#5a5a5a" stroke="none" stroke-width="0" opacity="0.7"/>
<circle cx="1202.2" cy="476.1" r="4.6" fill="#5a5a5a" stroke="none" stroke-width="0" opacity="0.7"/>
<circle cx="1541.8" cy="410.8" r="4.6" fill="#5a5a5a" stroke="none" stroke-width="0" opacity="0.7"/>
<circle cx="1593.8" cy="701" r="4.6" fill="#5a5a5a" stroke="none" stroke-width="0" opacity="0.7"/>
<circle cx="1212.3" cy="736.6" r="4.6" fill="#5a5a5a" stroke="none" stroke-width="0" opacity="0.7"/>
<circle cx="1017" cy="757.4" r="4.6" fill="#5a5a5a" stroke="none" stroke-width="0" opacity="0.7"/>
<circle cx="1054.8" cy="784" r="4.6" fill="#5a5a5a" stroke="none" stroke-width="0" opacity="0.7"/>
<g opacity="0.45">
<line x1="1180.8" y1="752.5" x2="1212.2" y2="706.43" stroke="url(#g31)" stroke-width="7.5" stroke-linecap="round"/>
<line x1="1212.2" y1="706.43" x2="1243.6" y2="660.37" stroke="url(#g32)" stroke-width="7.5" stroke-linecap="round"/>
<line x1="1243.6" y1="660.37" x2="1275" y2="614.3" stroke="url(#g33)" stroke-width="7.5" stroke-linecap="round"/>
<line x1="1275" y1="614.3" x2="1306.4" y2="568.23" stroke="url(#g34)" stroke-width="7.5" stroke-linecap="round"/>
<line x1="1306.4" y1="568.23" x2="1337.8" y2="522.17" stroke="url(#g35)" stroke-width="7.5" stroke-linecap="round"/>
<line x1="1337.8" y1="522.17" x2="1369.2" y2="476.1" stroke="url(#g36)" stroke-width="7.5" stroke-linecap="round"/>
<line x1="1369.2" y1="476.1" x2="1419.17" y2="457.92" stroke="url(#g37)" stroke-width="7.5" stroke-linecap="round"/>
<line x1="1419.17" y1="457.92" x2="1469.13" y2="439.73" stroke="url(#g38)" stroke-width="7.5" stroke-linecap="round"/>
<line x1="1469.13" y1="439.73" x2="1519.1" y2="421.55" stroke="url(#g39)" stroke-width="7.5" stroke-linecap="round"/>
<line x1="1519.1" y1="421.55" x2="1569.07" y2="403.37" stroke="url(#g40)" stroke-width="7.5" stroke-linecap="round"/>
<line x1="1569.07" y1="403.37" x2="1619.03" y2="385.18" stroke="url(#g41)" stroke-width="7.5" stroke-linecap="round"/>
<line x1="1619.03" y1="385.18" x2="1669" y2="367" stroke="url(#g42)" stroke-width="7.5" stroke-linecap="round"/>
</g>
<line x1="1281.6" y1="878" x2="1297.33" y2="855.88" stroke="url(#g43)" stroke-width="7.5" stroke-linecap="round"/>
<line x1="1297.33" y1="855.88" x2="1313.07" y2="833.77" stroke="url(#g44)" stroke-width="7.5" stroke-linecap="round"/>
<line x1="1313.07" y1="833.77" x2="1328.8" y2="811.65" stroke="url(#g45)" stroke-width="7.5" stroke-linecap="round"/>
<line x1="1328.8" y1="811.65" x2="1344.53" y2="789.53" stroke="url(#g46)" stroke-width="7.5" stroke-linecap="round"/>
<line x1="1344.53" y1="789.53" x2="1360.27" y2="767.42" stroke="url(#g47)" stroke-width="7.5" stroke-linecap="round"/>
<line x1="1360.27" y1="767.42" x2="1376" y2="745.3" stroke="url(#g48)" stroke-width="7.5" stroke-linecap="round"/>
<line x1="1376" y1="745.3" x2="1419.42" y2="727.72" stroke="url(#g49)" stroke-width="7.5" stroke-linecap="round"/>
<line x1="1419.42" y1="727.72" x2="1462.83" y2="710.13" stroke="url(#g50)" stroke-width="7.5" stroke-linecap="round"/>
<line x1="1462.83" y1="710.13" x2="1506.25" y2="692.55" stroke="url(#g51)" stroke-width="7.5" stroke-linecap="round"/>
<line x1="1506.25" y1="692.55" x2="1549.67" y2="674.97" stroke="url(#g52)" stroke-width="7.5" stroke-linecap="round"/>
<line x1="1549.67" y1="674.97" x2="1593.08" y2="657.38" stroke="url(#g53)" stroke-width="7.5" stroke-linecap="round"/>
<line x1="1593.08" y1="657.38" x2="1636.5" y2="639.8" stroke="url(#g54)" stroke-width="7.5" stroke-linecap="round"/>
<line x1="1636.5" y1="639.8" x2="1649.78" y2="634.58" stroke="url(#g55)" stroke-width="7.5" stroke-linecap="round"/>
<line x1="1649.78" y1="634.58" x2="1663.07" y2="629.37" stroke="url(#g56)" stroke-width="7.5" stroke-linecap="round"/>
<line x1="1663.07" y1="629.37" x2="1676.35" y2="624.15" stroke="url(#g57)" stroke-width="7.5" stroke-linecap="round"/>
<line x1="1676.35" y1="624.15" x2="1689.63" y2="618.93" stroke="url(#g58)" stroke-width="7.5" stroke-linecap="round"/>
<line x1="1689.63" y1="618.93" x2="1702.92" y2="613.72" stroke="url(#g59)" stroke-width="7.5" stroke-linecap="round"/>
<line x1="1702.92" y1="613.72" x2="1716.2" y2="608.5" stroke="url(#g60)" stroke-width="7.5" stroke-linecap="round"/>
<line x1="1212" y1="568" x2="1240.58" y2="522.72" stroke="url(#g61)" stroke-width="7.5" stroke-linecap="round"/>
<line x1="1240.58" y1="522.72" x2="1269.17" y2="477.43" stroke="url(#g62)" stroke-width="7.5" stroke-linecap="round"/>
<line x1="1269.17" y1="477.43" x2="1297.75" y2="432.15" stroke="url(#g63)" stroke-width="7.5" stroke-linecap="round"/>
<line x1="1297.75" y1="432.15" x2="1326.33" y2="386.87" stroke="url(#g64)" stroke-width="7.5" stroke-linecap="round"/>
<line x1="1326.33" y1="386.87" x2="1354.92" y2="341.58" stroke="url(#g65)" stroke-width="7.5" stroke-linecap="round"/>
<line x1="1354.92" y1="341.58" x2="1383.5" y2="296.3" stroke="url(#g66)" stroke-width="7.5" stroke-linecap="round"/>
<line x1="1383.5" y1="296.3" x2="1422.7" y2="272.92" stroke="url(#g67)" stroke-width="7.5" stroke-linecap="round"/>
<line x1="1422.7" y1="272.92" x2="1461.9" y2="249.53" stroke="url(#g68)" stroke-width="7.5" stroke-linecap="round"/>
<line x1="1461.9" y1="249.53" x2="1501.1" y2="226.15" stroke="url(#g69)" stroke-width="7.5" stroke-linecap="round"/>
<line x1="1501.1" y1="226.15" x2="1540.3" y2="202.77" stroke="url(#g70)" stroke-width="7.5" stroke-linecap="round"/>
<line x1="1540.3" y1="202.77" x2="1579.5" y2="179.38" stroke="url(#g71)" stroke-width="7.5" stroke-linecap="round"/>
<line x1="1579.5" y1="179.38" x2="1618.7" y2="156" stroke="url(#g72)" stroke-width="7.5" stroke-linecap="round"/>
<line x1="1618.7" y1="156" x2="1609.5" y2="213.4" stroke="url(#g73)" stroke-width="7.5" stroke-linecap="round"/>
<line x1="1609.5" y1="213.4" x2="1625.5" y2="248.8" stroke="url(#g74)" stroke-width="7.5" stroke-linecap="round"/>
<line x1="1625.5" y1="248.8" x2="1650" y2="308.6" stroke="url(#g75)" stroke-width="7.5" stroke-linecap="round"/>
<line x1="1650" y1="308.6" x2="1669" y2="367" stroke="url(#g76)" stroke-width="7.5" stroke-linecap="round"/>
<line x1="1669" y1="367" x2="1684.4" y2="440" stroke="url(#g77)" stroke-width="7.5" stroke-linecap="round"/>
<line x1="1684.4" y1="440" x2="1697.6" y2="515.2" stroke="url(#g78)" stroke-width="7.5" stroke-linecap="round"/>
<line x1="1697.6" y1="515.2" x2="1710.8" y2="571.6" stroke="url(#g79)" stroke-width="7.5" stroke-linecap="round"/>
<line x1="1710.8" y1="571.6" x2="1718.3" y2="609.2" stroke="url(#g80)" stroke-width="7.5" stroke-linecap="round"/>
<line x1="1718.3" y1="609.2" x2="1723.9" y2="665.6" stroke="url(#g81)" stroke-width="7.5" stroke-linecap="round"/>
<line x1="1723.9" y1="665.6" x2="1729.5" y2="722" stroke="url(#g82)" stroke-width="7.5" stroke-linecap="round"/>
<line x1="1729.5" y1="722" x2="1735.2" y2="759.5" stroke="url(#g83)" stroke-width="7.5" stroke-linecap="round"/>
<line x1="1735.2" y1="759.5" x2="1737" y2="799.4" stroke="url(#g84)" stroke-width="7.5" stroke-linecap="round"/>
<line x1="1737" y1="799.4" x2="1739.3" y2="878" stroke="url(#g85)" stroke-width="7.5" stroke-linecap="round"/>
<line x1="1383.5" y1="296.3" x2="1355" y2="328" stroke="url(#g86)" stroke-width="7.5" stroke-linecap="round"/>
<line x1="1355" y1="328" x2="1361.3" y2="404" stroke="url(#g87)" stroke-width="7.5" stroke-linecap="round"/>
<line x1="1361.3" y1="404" x2="1369.2" y2="476.1" stroke="url(#g88)" stroke-width="7.5" stroke-linecap="round"/>
<line x1="1369.2" y1="476.1" x2="1372.4" y2="612" stroke="url(#g89)" stroke-width="7.5" stroke-linecap="round"/>
<line x1="1372.4" y1="612" x2="1376" y2="745.3" stroke="url(#g90)" stroke-width="7.5" stroke-linecap="round"/>
<line x1="1376" y1="745.3" x2="1377.4" y2="878" stroke="url(#g91)" stroke-width="7.5" stroke-linecap="round"/>
<line x1="1212" y1="568" x2="1184.9" y2="591.2" stroke="url(#g92)" stroke-width="7.5" stroke-linecap="round"/>
<line x1="1184.9" y1="591.2" x2="1182.2" y2="620" stroke="url(#g93)" stroke-width="7.5" stroke-linecap="round"/>
<line x1="1182.2" y1="620" x2="1180.8" y2="752.5" stroke="url(#g94)" stroke-width="7.5" stroke-linecap="round"/>
<line x1="1180.8" y1="752.5" x2="1181.2" y2="878" stroke="url(#g95)" stroke-width="7.5" stroke-linecap="round"/>
<circle cx="1618.7" cy="155.5" r="7" fill="#8a6aaa" stroke="none" stroke-width="0" opacity="0.45"/>
<circle cx="1383.5" cy="296.3" r="7" fill="#8a6aaa" stroke="none" stroke-width="0" opacity="0.45"/>
<circle cx="1669" cy="367" r="7" fill="#8a6aaa" stroke="none" stroke-width="0" opacity="0.45"/>
<circle cx="1212" cy="568" r="7" fill="#8a6aaa" stroke="none" stroke-width="0" opacity="0.45"/>
<circle cx="1369.2" cy="476.1" r="7" fill="#8a6aaa" stroke="none" stroke-width="0" opacity="0.45"/>
<circle cx="1180.8" cy="752.5" r="7" fill="#8a6aaa" stroke="none" stroke-width="0" opacity="0.45"/>
<circle cx="1376" cy="745.3" r="7" fill="#8a6aaa" stroke="none" stroke-width="0" opacity="0.45"/>
<g fill="#000" font-size="28.5">
<text x="1397.9" y="174.8">log(</text>
<text x="1453.1" y="174.8" font-style="italic">n</text>
<text x="1471.2" y="174.8">)</text>
<text x="1487.1" y="174.8">=</text>
<text x="1516.9" y="174.8">4.0</text>
</g>
<g fill="#808080" font-size="28.5">
<text x="1092.9" y="325.5">log(</text>
<text x="1148.1" y="325.5" font-style="italic">n</text>
<text x="1166.2" y="325.5">)</text>
<text x="1182.1" y="325.5">=</text>
<text x="1211.9" y="325.5">2.0</text>
</g>
</g>
<line x1="1633.4" y1="599.1" x2="1633.4" y2="649.4" stroke="#ffa500" stroke-width="6" stroke-linecap="butt" stroke-opacity="0.5"/>
<line x1="1621.15" y1="599.1" x2="1645.65" y2="599.1" stroke="#ffa500" stroke-width="4.3" stroke-linecap="butt" stroke-opacity="0.5"/>
<line x1="1633.4" y1="649.4" x2="1633.4" y2="694.6" stroke="#ffa500" stroke-width="6" stroke-linecap="butt" stroke-opacity="0.5"/>
<line x1="1621.15" y1="694.6" x2="1645.65" y2="694.6" stroke="#ffa500" stroke-width="4.3" stroke-linecap="butt" stroke-opacity="0.5"/>
<line x1="1633.4" y1="649.4" x2="1677.4" y2="649.4" stroke="#ffa500" stroke-width="6" stroke-linecap="butt" stroke-opacity="0.5"/>
<path d="M1677.4,635.7 L1700.1,649.4 L1677.4,663.1 Z" fill="#ffa500" stroke="none" stroke-width="0" stroke-linejoin="miter" opacity="0.5"/>
<path d="M1621,637 L1645.8,637 L1645.8,661.8 L1621,661.8 Z" fill="#ffff00" stroke="#ffa500" stroke-width="3.5" stroke-linejoin="miter" opacity="0.5"/>
<line x1="1637.8" y1="589.2" x2="1637.8" y2="639.1" stroke="#ffa500" stroke-width="6" stroke-linecap="butt" stroke-opacity="0.5"/>
<line x1="1625.65" y1="589.2" x2="1649.95" y2="589.2" stroke="#ffa500" stroke-width="4.3" stroke-linecap="butt" stroke-opacity="0.5"/>
<line x1="1637.8" y1="639.1" x2="1637.8" y2="684.6" stroke="#ffa500" stroke-width="6" stroke-linecap="butt" stroke-opacity="0.5"/>
<line x1="1625.65" y1="684.6" x2="1649.95" y2="684.6" stroke="#ffa500" stroke-width="4.3" stroke-linecap="butt" stroke-opacity="0.5"/>
<line x1="1637.8" y1="639.1" x2="1682.1" y2="639.1" stroke="#ffa500" stroke-width="6" stroke-linecap="butt" stroke-opacity="0.5"/>
<path d="M1682.1,625.4 L1704.8,639.1 L1682.1,652.8 Z" fill="#ffa500" stroke="none" stroke-width="0" stroke-linejoin="miter" opacity="0.5"/>
<circle cx="1637.8" cy="639.1" r="11.95" fill="#ffff00" stroke="#ffa500" stroke-width="3.5" opacity="0.5"/>
<line x1="1678.2" y1="569.1" x2="1678.2" y2="619.6" stroke="#ffa500" stroke-width="6" stroke-linecap="butt"/>
<line x1="1665.9" y1="569.1" x2="1690.5" y2="569.1" stroke="#ffa500" stroke-width="4.4" stroke-linecap="butt"/>
<line x1="1678.2" y1="619.6" x2="1678.2" y2="664.5" stroke="#ffa500" stroke-width="6" stroke-linecap="butt"/>
<line x1="1665.9" y1="664.5" x2="1690.5" y2="664.5" stroke="#ffa500" stroke-width="4.4" stroke-linecap="butt"/>
<line x1="1678.2" y1="619.6" x2="1722.9" y2="619.6" stroke="#ffa500" stroke-width="6" stroke-linecap="butt"/>
<path d="M1722.9,605.9 L1745.6,619.6 L1722.9,633.3 Z" fill="#ffa500" stroke="none" stroke-width="0" stroke-linejoin="miter"/>
<path d="M1678.2,599.6 L1673.71,613.42 L1659.18,613.42 L1670.93,621.96 L1666.44,635.78 L1678.2,627.24 L1689.96,635.78 L1685.47,621.96 L1697.22,613.42 L1682.69,613.42 Z" fill="#ffff00" stroke="#ffa500" stroke-width="4.2" stroke-linejoin="bevel"/>
<line x1="1048.7" y1="870.8" x2="1048.7" y2="850.3" stroke="#000" stroke-width="3.6" stroke-linecap="butt"/>
<text x="1048.7" y="906.4" font-size="28.5" text-anchor="middle" fill="#000">−1.00</text>
<line x1="1160.95" y1="870.8" x2="1160.95" y2="850.3" stroke="#000" stroke-width="3.6" stroke-linecap="butt"/>
<text x="1160.95" y="906.4" font-size="28.5" text-anchor="middle" fill="#000">−0.75</text>
<line x1="1273.2" y1="870.8" x2="1273.2" y2="850.3" stroke="#000" stroke-width="3.6" stroke-linecap="butt"/>
<text x="1273.2" y="906.4" font-size="28.5" text-anchor="middle" fill="#000">−0.50</text>
<line x1="1385.45" y1="870.8" x2="1385.45" y2="850.3" stroke="#000" stroke-width="3.6" stroke-linecap="butt"/>
<text x="1385.45" y="906.4" font-size="28.5" text-anchor="middle" fill="#000">−0.25</text>
<line x1="1497.7" y1="870.8" x2="1497.7" y2="850.3" stroke="#000" stroke-width="3.6" stroke-linecap="butt"/>
<text x="1497.7" y="906.4" font-size="28.5" text-anchor="middle" fill="#000">0.00</text>
<line x1="1609.95" y1="870.8" x2="1609.95" y2="850.3" stroke="#000" stroke-width="3.6" stroke-linecap="butt"/>
<text x="1609.95" y="906.4" font-size="28.5" text-anchor="middle" fill="#000">0.25</text>
<line x1="1722.2" y1="870.8" x2="1722.2" y2="850.3" stroke="#000" stroke-width="3.6" stroke-linecap="butt"/>
<text x="1722.2" y="906.4" font-size="28.5" text-anchor="middle" fill="#000">0.50</text>
<line x1="1834.45" y1="870.8" x2="1834.45" y2="850.3" stroke="#000" stroke-width="3.6" stroke-linecap="butt"/>
<text x="1834.45" y="906.4" font-size="28.5" text-anchor="middle" fill="#000">0.75</text>
<line x1="1003.8" y1="780.3" x2="1024.3" y2="780.3" stroke="#000" stroke-width="3.6" stroke-linecap="butt"/>
<line x1="1003.8" y1="679.8" x2="1024.3" y2="679.8" stroke="#000" stroke-width="3.6" stroke-linecap="butt"/>
<line x1="1003.8" y1="579.3" x2="1024.3" y2="579.3" stroke="#000" stroke-width="3.6" stroke-linecap="butt"/>
<line x1="1003.8" y1="478.8" x2="1024.3" y2="478.8" stroke="#000" stroke-width="3.6" stroke-linecap="butt"/>
<line x1="1003.8" y1="378.3" x2="1024.3" y2="378.3" stroke="#000" stroke-width="3.6" stroke-linecap="butt"/>
<line x1="1003.8" y1="277.8" x2="1024.3" y2="277.8" stroke="#000" stroke-width="3.6" stroke-linecap="butt"/>
<line x1="1003.8" y1="177.3" x2="1024.3" y2="177.3" stroke="#000" stroke-width="3.6" stroke-linecap="butt"/>
<line x1="1003.8" y1="76.8" x2="1024.3" y2="76.8" stroke="#000" stroke-width="3.6" stroke-linecap="butt"/>
<rect x="1003.8" y="1.2" width="853" height="869.6" fill="none" stroke="#000" stroke-width="3.6" stroke-linejoin="miter"/>
<text x="1428.5" y="949.8" font-size="28.5" text-anchor="middle" fill="#000">log([NeIII]λ3868/[OII]λ3727)</text>
<rect x="1876.1" y="13.1" width="21.2" height="416.4" fill="url(#cb1)"/>
<line x1="1889" y1="68.6" x2="1897.3" y2="68.6" stroke="#000" stroke-width="3.6" stroke-linecap="butt"/>
<text transform="translate(1927.2,61.5) rotate(-90)" font-size="20.2" text-anchor="end">0.0</text>
<line x1="1889" y1="151.9" x2="1897.3" y2="151.9" stroke="#000" stroke-width="3.6" stroke-linecap="butt"/>
<text transform="translate(1927.2,144.8) rotate(-90)" font-size="20.2" text-anchor="end">−0.5</text>
<line x1="1889" y1="236.5" x2="1897.3" y2="236.5" stroke="#000" stroke-width="3.6" stroke-linecap="butt"/>
<text transform="translate(1927.2,229.4) rotate(-90)" font-size="20.2" text-anchor="end">−1.0</text>
<line x1="1889" y1="320.7" x2="1897.3" y2="320.7" stroke="#000" stroke-width="3.6" stroke-linecap="butt"/>
<text transform="translate(1927.2,313.6) rotate(-90)" font-size="20.2" text-anchor="end">−1.5</text>
<line x1="1889" y1="405" x2="1897.3" y2="405" stroke="#000" stroke-width="3.6" stroke-linecap="butt"/>
<text transform="translate(1927.2,397.9) rotate(-90)" font-size="20.2" text-anchor="end">−2.0</text>
<rect x="1876.1" y="13.1" width="21.2" height="416.4" fill="none" stroke="#000" stroke-width="3.6"/>
<rect x="1876.1" y="468.1" width="21.2" height="407.8" fill="url(#cb2)"/>
<line x1="1889" y1="467.6" x2="1897.3" y2="467.6" stroke="#000" stroke-width="3.6" stroke-linecap="butt"/>
<text transform="translate(1927.2,460.5) rotate(-90)" font-size="20.2" text-anchor="end">−1.5</text>
<line x1="1889" y1="543.6" x2="1897.3" y2="543.6" stroke="#000" stroke-width="3.6" stroke-linecap="butt"/>
<text transform="translate(1927.2,536.5) rotate(-90)" font-size="20.2" text-anchor="end">−2.0</text>
<line x1="1889" y1="619.2" x2="1897.3" y2="619.2" stroke="#000" stroke-width="3.6" stroke-linecap="butt"/>
<text transform="translate(1927.2,612.1) rotate(-90)" font-size="20.2" text-anchor="end">−2.5</text>
<line x1="1889" y1="695.2" x2="1897.3" y2="695.2" stroke="#000" stroke-width="3.6" stroke-linecap="butt"/>
<text transform="translate(1927.2,688.1) rotate(-90)" font-size="20.2" text-anchor="end">−3.0</text>
<line x1="1889" y1="770.7" x2="1897.3" y2="770.7" stroke="#000" stroke-width="3.6" stroke-linecap="butt"/>
<text transform="translate(1927.2,763.6) rotate(-90)" font-size="20.2" text-anchor="end">−3.5</text>
<line x1="1889" y1="846.7" x2="1897.3" y2="846.7" stroke="#000" stroke-width="3.6" stroke-linecap="butt"/>
<text transform="translate(1927.2,839.6) rotate(-90)" font-size="20.2" text-anchor="end">−4.0</text>
<rect x="1876.1" y="468.1" width="21.2" height="407.8" fill="none" stroke="#000" stroke-width="3.6"/>
<text transform="translate(1972.8,283.3) rotate(-90)" font-size="28.5">log <tspan font-style="italic">Z</tspan>/<tspan font-style="italic">Z</tspan><tspan font-size="19" dx="2.5" dy="4.4">⊙</tspan></text>
<text transform="translate(1973,711.1) rotate(-90)" font-size="28.5">log <tspan font-style="italic">U</tspan></text>
</svg>
</body></html>
